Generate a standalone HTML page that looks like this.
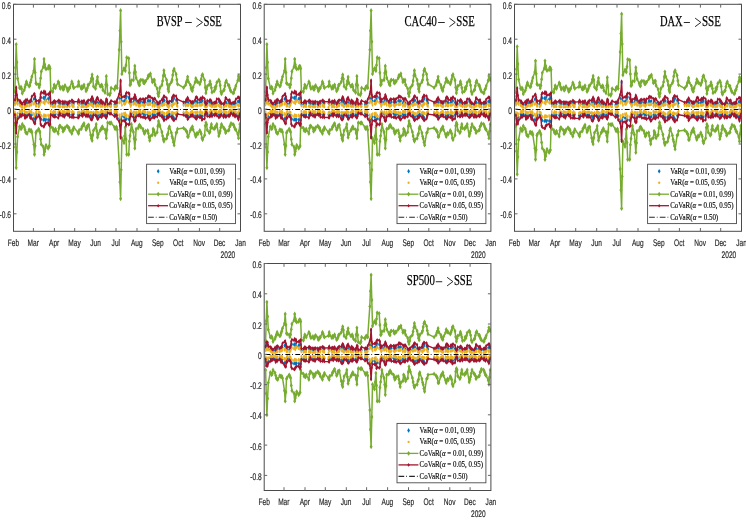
<!DOCTYPE html><html><head><meta charset="utf-8"><style>html,body{margin:0;padding:0;background:#fff;width:746px;height:520px;overflow:hidden}svg{display:block;will-change:transform}.t{font-family:"Liberation Sans",sans-serif;font-size:9.5px;fill:#262626;stroke:#262626;stroke-width:0.18;text-rendering:geometricPrecision}.s{font-family:"Liberation Serif",serif;fill:#000}.ti{stroke:#000;stroke-width:0.25}</style></head><body>
<svg width="746" height="520" viewBox="0 0 746 520">
<defs><marker id="mg" markerUnits="userSpaceOnUse" markerWidth="6" markerHeight="6" refX="3" refY="3" overflow="visible"><path d="M1.5,3L3,0.6000000000000001L4.5,3L3,5.4Z" fill="#77AC30"/></marker><marker id="mr" markerUnits="userSpaceOnUse" markerWidth="6" markerHeight="6" refX="3" refY="3" overflow="visible"><path d="M1.9,3L3,1.0L4.1,3L3,5.0Z" fill="#A2142F"/></marker><marker id="mb" markerUnits="userSpaceOnUse" markerWidth="6" markerHeight="6" refX="3" refY="3" overflow="visible"><path d="M1.9,3L3,0.8999999999999999L4.1,3L3,5.1Z" fill="#0072BD"/></marker><marker id="my" markerUnits="userSpaceOnUse" markerWidth="6" markerHeight="6" refX="3" refY="3" overflow="visible"><ellipse cx="3" cy="3" rx="0.9" ry="1.8" fill="#EDB120"/></marker></defs>
<clipPath id="c0"><rect x="13.5" y="4.3" width="227.0" height="227.0"/></clipPath>
<g clip-path="url(#c0)">
<polyline points="14.9,103.5 15.5,99.4 16.2,88.3 16.9,98.6 17.6,101.7 19.6,103.5 20.3,104.0 21.0,104.1 21.6,104.5 22.3,105.0 24.3,104.5 25.0,104.1 25.7,103.3 26.4,102.0 27.1,102.9 29.1,103.0 29.8,102.7 30.4,102.3 31.1,100.8 31.8,101.5 33.8,99.0 34.5,98.5 35.2,99.0 35.9,101.5 36.5,104.0 38.6,103.7 39.2,103.3 39.9,102.6 40.6,97.8 41.3,97.5 43.3,97.9 44.0,97.3 44.7,99.5 45.3,96.8 46.0,100.1 48.1,98.6 48.7,99.3 49.4,97.2 50.1,98.0 50.8,104.5 52.8,104.6 53.5,104.5 54.2,103.8 54.8,104.4 55.5,103.7 58.2,102.4 58.9,102.3 59.6,103.6 60.3,103.5 62.3,103.8 63.0,104.3 63.6,103.9 64.3,103.2 65.0,103.7 67.0,104.2 67.7,104.7 68.4,104.4 69.1,104.6 69.7,103.2 71.8,102.9 72.5,102.6 73.1,103.9 73.8,103.7 77.9,103.2 78.6,102.9 79.2,102.3 81.3,103.8 81.9,102.8 82.6,103.4 83.3,104.0 84.0,103.6 86.0,104.3 86.7,104.4 87.4,103.9 88.0,103.5 88.7,104.0 90.7,102.5 91.4,102.7 92.1,100.7 92.8,102.2 93.5,103.8 95.5,104.0 96.2,103.0 96.8,103.0 97.5,102.5 98.2,103.2 100.2,104.5 100.9,104.0 101.6,102.4 102.3,104.2 102.9,104.1 105.0,105.5 105.7,103.0 106.3,101.8 107.0,103.3 107.7,105.0 109.7,104.5 110.4,105.1 111.1,104.1 114.5,104.7 115.1,103.5 115.8,103.7 116.5,103.3 117.2,102.7 119.2,98.1 119.9,98.2 120.6,81.7 121.2,98.5 121.9,100.9 124.0,101.2 124.6,100.9 125.3,101.5 126.0,98.8 126.7,96.4 128.7,97.7 129.4,98.9 130.0,103.2 130.7,103.1 131.4,101.7 133.4,102.2 134.1,100.5 134.8,98.7 135.5,99.5 136.1,101.6 138.2,103.1 138.9,103.9 139.5,103.5 140.2,103.4 140.9,101.6 142.9,102.4 143.6,102.4 144.3,101.7 145.0,101.7 145.6,102.8 147.7,101.0 148.3,100.3 149.0,101.3 149.7,101.2 150.4,100.8 152.4,103.0 153.1,101.3 153.8,103.4 154.4,102.7 155.1,103.3 157.2,104.3 157.8,105.2 158.5,105.3 159.2,105.2 159.9,103.4 161.9,104.3 162.6,102.2 163.3,101.2 163.9,99.8 164.6,100.6 166.6,102.4 167.3,103.4 168.0,103.8 168.7,104.4 169.4,103.7 171.4,101.4 172.1,100.6 172.7,101.5 173.4,99.6 174.1,98.1 176.1,100.1 176.8,101.7 177.5,103.1 183.6,104.0 185.6,103.3 186.3,102.8 187.0,101.6 187.6,101.6 188.3,102.5 190.4,103.8 191.0,104.0 191.7,104.9 192.4,104.6 193.1,103.2 195.1,102.4 195.8,101.5 196.5,101.8 197.1,102.3 197.8,102.6 199.8,103.0 200.5,102.0 201.2,102.3 201.9,100.2 202.6,100.8 204.6,102.5 205.3,104.0 205.9,105.3 206.6,104.2 207.3,104.0 209.3,102.4 210.0,102.9 210.7,104.2 211.4,104.3 212.0,105.9 214.1,104.7 214.8,103.5 215.4,103.7 216.1,104.2 216.8,103.0 218.8,101.1 219.5,102.2 220.2,103.4 220.8,104.2 221.5,104.0 223.6,104.0 224.2,104.2 224.9,103.3 225.6,102.3 226.3,102.7 228.3,103.7 229.0,103.4 229.7,104.5 230.3,104.5 231.0,104.8 233.0,104.0 233.7,105.6 234.4,104.6 235.1,104.2 235.8,103.2 237.8,101.6 238.5,101.4 239.1,101.8 239.8,102.7" fill="none" stroke="none" marker-start="url(#mb)" marker-mid="url(#mb)" marker-end="url(#mb)"/>
<polyline points="14.9,113.9 15.5,117.8 16.2,131.9 16.9,119.1 17.6,116.2 19.6,113.6 20.3,113.2 21.0,114.1 21.6,113.6 22.3,113.8 24.3,114.0 25.0,113.2 25.7,115.8 26.4,115.0 27.1,114.7 29.1,114.4 29.8,114.6 30.4,114.4 31.1,114.2 31.8,115.0 33.8,118.6 34.5,119.0 35.2,118.4 35.9,115.5 36.5,114.3 38.6,113.6 39.2,113.7 39.9,115.1 40.6,118.8 41.3,119.3 43.3,119.9 44.0,119.3 44.7,119.4 45.3,120.5 46.0,119.4 48.1,119.7 48.7,119.7 49.4,120.1 50.1,120.2 50.8,114.2 52.8,114.1 53.5,114.1 54.2,113.7 54.8,113.8 55.5,114.1 58.2,114.8 58.9,114.2 59.6,112.9 60.3,113.3 62.3,113.3 63.0,113.3 63.6,113.9 64.3,114.7 65.0,114.0 67.0,113.9 67.7,113.9 68.4,112.8 69.1,113.6 69.7,115.0 71.8,114.4 72.5,113.5 73.1,114.2 73.8,114.0 77.9,114.7 78.6,114.7 79.2,113.9 81.3,113.2 81.9,112.7 82.6,112.5 83.3,112.0 84.0,112.3 86.0,114.6 86.7,113.7 87.4,113.0 88.0,113.2 88.7,112.7 90.7,115.3 91.4,116.7 92.1,115.8 92.8,115.0 93.5,114.1 95.5,113.0 96.2,112.4 96.8,114.1 97.5,116.9 98.2,115.5 100.2,114.5 100.9,114.4 101.6,113.4 102.3,112.7 102.9,113.9 105.0,114.7 105.7,113.9 106.3,115.9 107.0,114.7 107.7,112.5 109.7,112.4 110.4,113.0 111.1,112.2 114.5,113.6 115.1,114.2 115.8,113.5 116.5,113.1 117.2,115.4 119.2,118.4 119.9,120.4 120.6,136.6 121.2,118.9 121.9,116.3 124.0,117.0 124.6,117.1 125.3,116.6 126.0,119.5 126.7,118.7 128.7,119.1 129.4,119.6 130.0,115.9 130.7,113.9 131.4,112.8 133.4,113.8 134.1,116.2 134.8,117.3 135.5,115.7 136.1,114.1 138.2,114.4 138.9,113.7 139.5,113.7 140.2,112.3 140.9,113.9 142.9,113.2 143.6,114.1 144.3,114.0 145.0,114.2 145.6,114.4 147.7,114.4 148.3,114.9 149.0,115.8 149.7,116.8 150.4,115.8 152.4,114.3 153.1,115.0 153.8,114.0 154.4,115.2 155.1,115.1 157.2,114.1 157.8,113.2 158.5,112.2 159.2,113.4 159.9,112.6 161.9,114.8 162.6,115.3 163.3,116.3 163.9,118.2 164.6,116.9 166.6,116.0 167.3,114.6 168.0,114.7 168.7,113.6 169.4,114.2 171.4,114.0 172.1,114.7 172.7,116.3 173.4,117.3 174.1,118.3 176.1,114.7 176.8,113.1 177.5,113.5 183.6,113.0 185.6,113.8 186.3,114.9 187.0,114.0 187.6,116.3 188.3,115.7 190.4,114.2 191.0,113.4 191.7,113.4 192.4,113.2 193.1,114.5 195.1,115.8 195.8,115.6 196.5,115.6 197.1,115.6 197.8,115.6 199.8,114.6 200.5,115.6 201.2,115.8 201.9,116.9 202.6,116.3 204.6,115.0 205.3,112.2 205.9,113.4 206.6,113.2 207.3,113.5 209.3,114.8 210.0,114.6 210.7,112.6 211.4,113.0 212.0,114.1 214.1,114.4 214.8,113.3 215.4,113.3 216.1,113.8 216.8,113.6 218.8,114.8 219.5,114.7 220.2,114.6 220.8,113.1 221.5,112.6 223.6,114.4 224.2,113.9 224.9,113.9 225.6,115.0 226.3,115.6 228.3,114.4 229.0,113.6 229.7,112.5 230.3,114.1 231.0,111.2 233.0,113.2 233.7,112.4 234.4,112.7 235.1,113.3 235.8,114.1 237.8,115.7 238.5,115.5 239.1,114.8 239.8,114.2" fill="none" stroke="none" marker-start="url(#mb)" marker-mid="url(#mb)" marker-end="url(#mb)"/>
<polyline points="14.9,104.8 15.5,102.3 16.2,99.2 16.9,103.0 17.6,103.9 19.6,105.1 20.3,105.3 21.0,106.1 21.6,106.9 22.3,106.9 24.3,107.6 25.0,106.9 25.7,105.6 26.4,105.9 27.1,105.7 29.1,105.9 29.8,104.8 30.4,104.7 31.1,105.0 31.8,103.9 33.8,104.0 34.5,102.3 35.2,103.4 35.9,105.9 36.5,105.7 38.6,106.4 39.2,105.9 39.9,104.8 40.6,102.4 41.3,101.4 43.3,102.5 44.0,102.3 44.7,103.5 45.3,100.7 46.0,101.3 48.1,102.3 48.7,102.7 49.4,101.4 50.1,102.0 50.8,105.8 52.8,106.5 53.5,106.1 54.2,105.5 54.8,106.2 55.5,106.2 58.2,106.3 58.9,105.7 59.6,106.6 60.3,106.3 62.3,106.6 63.0,106.3 63.6,106.1 64.3,106.7 65.0,106.3 67.0,106.7 67.7,106.1 68.4,105.5 69.1,105.8 69.7,106.2 71.8,104.6 72.5,106.3 73.1,105.1 73.8,106.4 77.9,107.3 78.6,104.0 79.2,105.0 81.3,106.7 81.9,105.9 82.6,106.2 83.3,105.9 84.0,106.6 86.0,106.8 86.7,106.2 87.4,106.0 88.0,105.2 88.7,105.6 90.7,104.0 91.4,105.2 92.1,104.3 92.8,105.9 93.5,106.5 95.5,105.4 96.2,106.2 96.8,104.9 97.5,104.8 98.2,105.9 100.2,106.0 100.9,106.1 101.6,106.0 102.3,105.6 102.9,106.1 105.0,106.9 105.7,106.1 106.3,104.6 107.0,105.8 107.7,106.3 109.7,105.6 110.4,106.4 111.1,106.3 114.5,106.4 115.1,106.5 115.8,106.4 116.5,106.5 117.2,105.6 119.2,102.8 119.9,101.0 120.6,96.1 121.2,102.6 121.9,105.0 124.0,103.5 124.6,104.1 125.3,103.4 126.0,102.0 126.7,100.9 128.7,102.2 129.4,101.7 130.0,104.1 130.7,106.2 131.4,104.5 133.4,104.0 134.1,103.8 134.8,102.2 135.5,103.2 136.1,105.0 138.2,105.1 138.9,106.1 139.5,106.0 140.2,105.5 140.9,105.1 142.9,105.0 143.6,105.1 144.3,106.2 145.0,104.2 145.6,104.5 147.7,104.3 148.3,104.6 149.0,104.4 149.7,104.0 150.4,104.1 152.4,106.0 153.1,104.7 153.8,103.6 154.4,106.1 155.1,105.1 157.2,106.1 157.8,107.0 158.5,106.2 159.2,107.4 159.9,106.1 161.9,104.9 162.6,105.2 163.3,104.6 163.9,103.8 164.6,104.6 166.6,104.2 167.3,106.1 168.0,105.8 168.7,107.2 169.4,105.4 171.4,105.4 172.1,106.3 172.7,104.3 173.4,104.3 174.1,103.8 176.1,103.4 176.8,105.5 177.5,106.1 183.6,105.2 185.6,105.7 186.3,104.5 187.0,104.8 187.6,105.2 188.3,105.2 190.4,105.1 191.0,105.6 191.7,106.4 192.4,106.5 193.1,106.1 195.1,105.7 195.8,103.8 196.5,105.0 197.1,105.8 197.8,105.6 199.8,105.1 200.5,104.9 201.2,104.9 201.9,104.8 202.6,104.3 204.6,106.0 205.3,106.8 205.9,106.3 206.6,106.6 207.3,105.7 209.3,105.0 210.0,105.0 210.7,105.6 211.4,105.0 212.0,106.3 214.1,106.8 214.8,105.8 215.4,106.0 216.1,106.3 216.8,105.3 218.8,105.2 219.5,106.3 220.2,105.9 220.8,106.8 221.5,107.1 223.6,107.4 224.2,106.5 224.9,105.9 225.6,105.3 226.3,105.8 228.3,105.3 229.0,106.5 229.7,106.3 230.3,105.7 231.0,107.0 233.0,107.1 233.7,106.2 234.4,106.7 235.1,106.4 235.8,105.7 237.8,104.5 238.5,105.7 239.1,105.1 239.8,105.5" fill="none" stroke="none" marker-start="url(#my)" marker-mid="url(#my)" marker-end="url(#my)"/>
<polyline points="14.9,112.1 15.5,115.3 16.2,119.9 16.9,115.1 17.6,113.5 19.6,111.6 20.3,111.4 21.0,112.1 21.6,111.5 22.3,110.4 24.3,111.3 25.0,112.2 25.7,112.3 26.4,112.8 27.1,112.2 29.1,111.5 29.8,112.4 30.4,112.2 31.1,111.4 31.8,112.7 33.8,113.9 34.5,116.0 35.2,114.6 35.9,112.8 36.5,111.0 38.6,112.1 39.2,112.3 39.9,112.6 40.6,115.7 41.3,115.8 43.3,116.4 44.0,115.1 44.7,115.6 45.3,115.6 46.0,115.9 48.1,115.2 48.7,116.8 49.4,116.1 50.1,116.2 50.8,111.6 52.8,112.8 53.5,111.5 54.2,112.2 54.8,112.3 55.5,112.1 58.2,112.4 58.9,111.5 59.6,112.1 60.3,111.9 62.3,111.5 63.0,112.0 63.6,112.0 64.3,112.1 65.0,112.0 67.0,111.4 67.7,110.9 68.4,112.1 69.1,110.9 69.7,111.6 71.8,112.6 72.5,111.6 73.1,112.7 73.8,112.6 77.9,112.9 78.6,112.6 79.2,112.2 81.3,112.0 81.9,111.5 82.6,112.5 83.3,110.9 84.0,111.9 86.0,112.1 86.7,111.9 87.4,112.0 88.0,112.0 88.7,112.0 90.7,112.6 91.4,112.8 92.1,113.0 92.8,113.2 93.5,112.5 95.5,112.1 96.2,111.1 96.8,113.1 97.5,112.2 98.2,112.8 100.2,112.5 100.9,111.7 101.6,111.1 102.3,111.3 102.9,111.2 105.0,111.9 105.7,111.8 106.3,112.2 107.0,112.0 107.7,110.3 109.7,111.0 110.4,111.0 111.1,111.6 114.5,111.6 115.1,111.3 115.8,112.3 116.5,111.2 117.2,112.3 119.2,115.1 119.9,117.5 120.6,122.1 121.2,114.9 121.9,114.0 124.0,113.6 124.6,114.9 125.3,113.3 126.0,116.4 126.7,115.3 128.7,116.6 129.4,115.3 130.0,112.9 130.7,111.6 131.4,111.9 133.4,112.5 134.1,112.1 134.8,115.2 135.5,113.7 136.1,112.1 138.2,112.2 138.9,110.8 139.5,110.4 140.2,111.7 140.9,112.5 142.9,111.2 143.6,111.5 144.3,112.0 145.0,111.7 145.6,112.6 147.7,112.2 148.3,113.1 149.0,113.7 149.7,112.8 150.4,113.3 152.4,111.4 153.1,111.9 153.8,112.3 154.4,111.9 155.1,111.6 157.2,111.9 157.8,112.0 158.5,110.9 159.2,110.4 159.9,111.7 161.9,112.6 162.6,112.3 163.3,113.2 163.9,114.1 164.6,113.5 166.6,113.5 167.3,112.6 168.0,112.3 168.7,111.2 169.4,111.2 171.4,113.1 172.1,112.6 172.7,112.7 173.4,113.5 174.1,113.3 176.1,112.9 176.8,112.7 177.5,111.3 183.6,112.3 185.6,113.0 186.3,111.6 187.0,112.7 187.6,113.0 188.3,113.5 190.4,112.8 191.0,112.4 191.7,111.9 192.4,111.4 193.1,113.1 195.1,112.2 195.8,113.4 196.5,113.1 197.1,112.1 197.8,112.5 199.8,112.9 200.5,111.3 201.2,113.0 201.9,112.9 202.6,113.1 204.6,111.9 205.3,111.7 205.9,110.6 206.6,111.6 207.3,111.3 209.3,112.7 210.0,112.3 210.7,110.6 211.4,111.1 212.0,111.5 214.1,110.6 214.8,111.4 215.4,112.0 216.1,111.0 216.8,112.0 218.8,111.9 219.5,111.8 220.2,112.4 220.8,111.9 221.5,111.1 223.6,111.6 224.2,112.3 224.9,111.6 225.6,113.3 226.3,112.4 228.3,112.2 229.0,112.0 229.7,111.3 230.3,111.9 231.0,110.8 233.0,111.2 233.7,111.6 234.4,112.3 235.1,112.4 235.8,111.8 237.8,113.0 238.5,112.9 239.1,111.6 239.8,110.7" fill="none" stroke="none" marker-start="url(#my)" marker-mid="url(#my)" marker-end="url(#my)"/>
<polyline points="14.9,91.8 15.5,67.7 16.2,44.3 16.9,62.3 17.6,78.5 19.6,87.9 20.3,88.1 21.0,87.0 21.6,88.7 22.3,93.3 24.3,89.9 25.0,87.1 25.7,84.5 26.4,81.7 27.1,84.0 29.1,86.3 29.8,85.6 30.4,82.6 31.1,80.1 31.8,76.8 33.8,70.8 34.5,59.1 35.2,72.5 35.9,83.2 36.5,83.8 38.6,84.8 39.2,87.4 39.9,84.8 40.6,78.2 41.3,71.5 43.3,66.9 44.0,59.1 44.7,64.5 45.3,67.7 46.0,69.2 48.1,68.5 48.7,66.1 49.4,66.3 50.1,68.4 50.8,91.0 52.8,91.8 53.5,88.2 54.2,84.8 54.8,86.3 55.5,87.9 58.2,81.7 58.9,83.1 59.6,86.2 60.3,88.7 62.3,87.0 63.0,89.4 63.6,89.4 64.3,86.7 65.0,85.5 67.0,88.4 67.7,91.0 68.4,90.0 69.1,88.2 69.7,87.9 71.8,81.7 72.5,83.6 73.1,86.3 73.8,87.9 77.9,86.0 78.6,81.7 79.2,85.4 81.3,88.7 81.9,86.5 82.6,88.1 83.3,86.6 84.0,84.8 86.0,91.0 86.7,89.9 87.4,88.0 88.0,85.0 88.7,84.8 90.7,81.8 91.4,78.5 92.1,74.7 92.8,78.9 93.5,86.3 95.5,88.7 96.2,84.4 96.8,81.0 97.5,77.0 98.2,82.8 100.2,86.3 100.9,86.0 101.6,84.8 102.3,86.7 102.9,90.0 105.0,92.5 105.7,84.7 106.3,76.2 107.0,85.2 107.7,94.1 109.7,95.1 110.4,93.3 111.1,87.9 114.5,89.5 115.1,87.2 115.8,86.3 116.5,86.9 117.2,87.9 119.2,49.8 119.9,30.8 120.6,10.5 121.2,41.7 121.9,73.9 124.0,68.4 124.6,68.9 125.3,70.8 126.0,65.2 126.7,57.5 128.7,58.3 129.4,72.8 130.0,85.0 130.7,84.2 131.4,80.6 133.4,80.0 134.1,72.9 134.8,65.9 135.5,72.1 136.1,78.0 138.2,82.4 138.9,84.5 139.5,85.2 140.2,80.6 140.9,80.0 142.9,80.2 143.6,82.9 144.3,83.0 145.0,81.2 145.6,81.3 147.7,78.0 148.3,75.4 149.0,75.9 149.7,75.1 150.4,73.7 152.4,82.0 153.1,80.1 153.8,81.2 154.4,79.9 155.1,84.8 157.2,88.7 157.8,93.5 158.5,96.2 159.2,92.6 159.9,87.7 161.9,85.0 162.6,80.9 163.3,75.7 163.9,70.5 164.6,75.2 166.6,80.0 167.3,84.1 168.0,89.1 168.7,91.5 169.4,85.0 171.4,82.0 172.1,79.9 172.7,75.1 173.4,70.8 174.1,69.0 176.1,74.2 176.8,79.7 177.5,84.0 183.6,87.7 185.6,85.0 186.3,82.2 187.0,80.3 187.6,76.8 188.3,81.5 190.4,85.0 191.0,88.1 191.7,90.1 192.4,90.8 193.1,87.2 195.1,82.2 195.8,78.3 196.5,80.2 197.1,81.7 197.8,81.9 199.8,84.0 200.5,81.8 201.2,79.2 201.9,75.6 202.6,74.4 204.6,80.2 205.3,87.5 205.9,93.1 206.6,89.2 207.3,86.2 209.3,84.5 210.0,81.4 210.7,84.2 211.4,87.8 212.0,92.3 214.1,91.2 214.8,87.6 215.4,88.9 216.1,86.0 216.8,82.4 218.8,79.9 219.5,81.4 220.2,85.3 220.8,91.6 221.5,93.9 223.6,90.4 224.2,89.7 224.9,86.0 225.6,82.5 226.3,80.7 228.3,85.3 229.0,85.3 229.7,88.0 230.3,90.0 231.0,91.4 233.0,93.1 233.7,92.9 234.4,89.7 235.1,88.8 235.8,86.0 237.8,80.5 238.5,76.0 239.1,77.6 239.8,80.0" fill="none" stroke="#77AC30" stroke-width="1.5" stroke-linejoin="round" marker-start="url(#mg)" marker-mid="url(#mg)" marker-end="url(#mg)"/>
<polyline points="14.9,124.2 15.5,147.0 16.2,167.8 16.9,152.0 17.6,136.7 19.6,126.6 20.3,127.4 21.0,128.9 21.6,128.0 22.3,124.2 24.3,127.0 25.0,129.7 25.7,132.5 26.4,132.8 27.1,133.6 29.1,129.7 29.8,130.2 30.4,131.2 31.1,130.2 31.8,132.0 33.8,144.4 34.5,154.5 35.2,145.7 35.9,132.8 36.5,131.4 38.6,128.9 39.2,130.4 39.9,132.0 40.6,139.2 41.3,144.4 43.3,146.8 44.0,154.5 44.7,151.5 45.3,148.3 46.0,145.2 48.1,148.3 48.7,146.9 49.4,146.0 50.1,124.2 50.8,126.9 52.8,128.1 53.5,130.5 54.2,130.3 54.8,131.2 55.5,128.9 58.2,133.6 58.9,128.2 59.6,125.8 60.3,126.1 62.3,128.1 63.0,131.4 63.6,128.9 64.3,129.7 65.0,127.7 67.0,125.8 67.7,126.8 68.4,127.5 69.1,128.1 69.7,130.5 71.8,133.6 72.5,129.9 73.1,130.0 73.8,127.3 77.9,132.4 78.6,133.6 79.2,130.2 81.3,128.9 81.9,126.8 82.6,126.0 83.3,124.5 84.0,123.4 86.0,129.7 86.7,128.5 87.4,125.8 88.0,125.6 88.7,125.0 90.7,135.1 91.4,138.5 92.1,140.6 92.8,135.0 93.5,130.4 95.5,127.7 96.2,124.2 96.8,130.9 97.5,137.4 98.2,134.3 100.2,130.4 100.9,129.4 101.6,127.8 102.3,126.6 102.9,128.4 105.0,129.7 105.7,133.0 106.3,138.2 107.0,129.8 107.7,122.7 109.7,123.0 110.4,123.3 111.1,122.7 114.5,127.3 115.1,128.9 115.8,128.0 116.5,127.0 117.2,129.7 119.2,163.1 119.9,182.0 120.6,198.8 121.2,169.8 121.9,138.2 124.0,142.9 124.6,136.0 125.3,127.3 126.0,139.3 126.7,154.5 128.7,154.5 129.4,141.3 130.0,135.8 130.7,130.5 131.4,124.2 133.4,132.0 134.1,138.6 134.8,148.3 135.5,139.6 136.1,128.9 138.2,128.1 138.9,126.0 139.5,125.0 140.2,126.1 140.9,127.3 142.9,128.9 143.6,131.3 144.3,133.6 145.0,132.6 145.6,130.9 147.7,130.4 148.3,133.2 149.0,137.1 149.7,140.6 150.4,136.3 152.4,134.8 153.1,128.9 153.8,130.1 154.4,132.3 155.1,135.1 157.2,132.2 157.8,126.2 158.5,121.1 159.2,124.1 159.9,126.0 161.9,132.0 162.6,135.9 163.3,139.4 163.9,141.3 164.6,139.4 166.6,138.4 167.3,135.1 168.0,133.5 168.7,128.3 169.4,126.6 171.4,132.8 172.1,136.4 172.7,138.5 173.4,142.2 174.1,145.2 176.1,132.8 176.8,132.2 177.5,128.9 183.6,128.1 185.6,129.9 186.3,131.2 187.0,132.0 187.6,136.7 188.3,136.7 190.4,130.4 191.0,128.7 191.7,128.3 192.4,126.6 193.1,129.7 195.1,134.6 195.8,136.7 196.5,134.3 197.1,133.1 197.8,134.0 199.8,130.4 200.5,132.1 201.2,133.7 201.9,137.9 202.6,139.8 204.6,135.3 205.3,125.7 205.9,122.7 206.6,124.4 207.3,130.1 209.3,132.8 210.0,131.7 210.7,127.5 211.4,124.2 212.0,127.9 214.1,128.9 214.8,127.4 215.4,127.6 216.1,125.9 216.8,124.2 218.8,135.9 219.5,133.5 220.2,130.9 220.8,127.4 221.5,124.2 223.6,127.7 224.2,128.6 224.9,129.7 225.6,132.8 226.3,131.6 228.3,130.4 229.0,129.9 229.7,126.4 230.3,125.8 231.0,123.4 233.0,124.2 233.7,125.2 234.4,127.2 235.1,129.1 235.8,129.7 237.8,134.1 238.5,138.2 239.1,131.2 239.8,124.2" fill="none" stroke="#77AC30" stroke-width="1.5" stroke-linejoin="round" marker-start="url(#mg)" marker-mid="url(#mg)" marker-end="url(#mg)"/>
<polyline points="14.9,100.3 15.5,95.4 16.2,87.2 16.9,95.1 17.6,99.2 19.6,100.7 20.3,101.1 21.0,102.4 21.6,103.4 22.3,103.6 24.3,101.3 25.0,104.0 25.7,100.1 26.4,100.7 27.1,99.5 29.1,102.0 29.8,101.1 30.4,101.2 31.1,99.8 31.8,96.4 33.8,94.6 34.5,93.7 35.2,96.8 35.9,101.2 36.5,100.7 38.6,100.8 39.2,101.4 39.9,100.5 40.6,94.1 41.3,92.1 43.3,93.1 44.0,91.2 44.7,93.3 45.3,92.0 46.0,94.8 48.1,94.2 48.7,94.4 49.4,93.0 50.1,92.6 50.8,102.7 52.8,102.4 53.5,102.0 54.2,100.7 54.8,101.3 55.5,102.0 58.2,100.7 58.9,100.3 59.6,101.6 60.3,101.6 62.3,101.6 63.0,103.4 63.6,102.1 64.3,102.6 65.0,101.6 67.0,102.2 67.7,104.5 68.4,102.4 69.1,101.8 69.7,101.6 71.8,100.3 72.5,100.6 73.1,102.0 73.8,101.8 77.9,101.5 78.6,99.8 79.2,101.9 81.3,101.6 81.9,101.3 82.6,101.8 83.3,101.7 84.0,100.5 86.0,104.0 86.7,102.1 87.4,101.5 88.0,100.6 88.7,100.2 90.7,100.1 91.4,98.6 92.1,96.8 92.8,98.3 93.5,100.8 95.5,103.1 96.2,100.1 96.8,98.2 97.5,97.4 98.2,99.6 100.2,102.4 100.9,100.2 101.6,100.9 102.3,103.6 102.9,102.1 105.0,104.2 105.7,101.7 106.3,98.9 107.0,99.7 107.7,103.9 109.7,103.6 110.4,102.0 111.1,100.7 114.5,102.2 115.1,101.8 115.8,102.4 116.5,102.0 117.2,99.5 119.2,93.9 119.9,91.5 120.6,80.3 121.2,94.9 121.9,97.2 124.0,96.6 124.6,96.7 125.3,96.3 126.0,93.6 126.7,92.6 128.7,92.9 129.4,94.1 130.0,101.5 130.7,99.8 131.4,99.3 133.4,98.3 134.1,97.8 134.8,94.8 135.5,96.6 136.1,98.9 138.2,101.7 138.9,100.8 139.5,99.8 140.2,99.0 140.9,99.5 142.9,99.1 143.6,99.2 144.3,102.3 145.0,99.5 145.6,98.7 147.7,97.6 148.3,95.9 149.0,96.4 149.7,96.8 150.4,96.9 152.4,98.5 153.1,99.6 153.8,99.3 154.4,98.4 155.1,98.9 157.2,102.2 157.8,103.7 158.5,103.7 159.2,102.2 159.9,101.8 161.9,99.4 162.6,100.0 163.3,97.5 163.9,96.1 164.6,96.5 166.6,98.0 167.3,101.8 168.0,102.9 168.7,102.3 169.4,101.5 171.4,101.0 172.1,97.8 172.7,96.8 173.4,95.3 174.1,95.7 176.1,95.9 176.8,99.0 177.5,99.4 183.6,102.2 185.6,101.5 186.3,99.6 187.0,99.6 187.6,97.6 188.3,99.2 190.4,101.5 191.0,101.7 191.7,102.8 192.4,101.8 193.1,102.0 195.1,100.1 195.8,97.5 196.5,97.0 197.1,97.7 197.8,99.6 199.8,100.0 200.5,98.2 201.2,98.7 201.9,98.3 202.6,97.1 204.6,98.7 205.3,102.3 205.9,104.6 206.6,103.5 207.3,100.6 209.3,101.1 210.0,99.8 210.7,100.3 211.4,101.2 212.0,103.4 214.1,102.4 214.8,102.7 215.4,102.2 216.1,101.9 216.8,98.9 218.8,99.1 219.5,100.2 220.2,101.3 220.8,103.1 221.5,103.0 223.6,104.2 224.2,103.2 224.9,101.4 225.6,97.7 226.3,98.6 228.3,100.7 229.0,100.3 229.7,100.0 230.3,102.7 231.0,103.3 233.0,102.5 233.7,103.0 234.4,101.9 235.1,102.4 235.8,99.3 237.8,97.6 238.5,97.3 239.1,97.5 239.8,100.6" fill="none" stroke="#A2142F" stroke-width="1.4" stroke-linejoin="round" marker-start="url(#mr)" marker-mid="url(#mr)" marker-end="url(#mr)"/>
<polyline points="14.9,114.7 15.5,122.5 16.2,133.1 16.9,122.4 17.6,119.2 19.6,117.0 20.3,115.0 21.0,116.4 21.6,115.7 22.3,115.0 24.3,115.5 25.0,118.2 25.7,116.0 26.4,117.1 27.1,116.4 29.1,114.6 29.8,116.3 30.4,118.2 31.1,117.2 31.8,118.5 33.8,121.8 34.5,123.5 35.2,123.5 35.9,117.5 36.5,118.0 38.6,115.8 39.2,116.5 39.9,117.5 40.6,124.1 41.3,125.5 43.3,126.4 44.0,126.7 44.7,124.2 45.3,124.1 46.0,123.1 48.1,122.5 48.7,124.2 49.4,125.5 50.1,123.8 50.8,115.1 52.8,115.7 53.5,116.6 54.2,116.3 54.8,116.9 55.5,116.3 58.2,118.0 58.9,116.1 59.6,112.9 60.3,115.0 62.3,115.8 63.0,116.0 63.6,115.4 64.3,117.0 65.0,115.6 67.0,114.1 67.7,114.9 68.4,115.3 69.1,114.3 69.7,117.1 71.8,117.2 72.5,116.9 73.1,114.8 73.8,117.4 77.9,117.5 78.6,117.8 79.2,115.9 81.3,115.3 81.9,114.0 82.6,116.2 83.3,113.7 84.0,114.5 86.0,116.4 86.7,115.2 87.4,115.7 88.0,116.5 88.7,115.3 90.7,119.1 91.4,119.8 92.1,119.4 92.8,117.8 93.5,115.1 95.5,115.6 96.2,116.0 96.8,117.2 97.5,119.3 98.2,118.8 100.2,116.2 100.9,116.6 101.6,117.2 102.3,114.6 102.9,115.8 105.0,115.9 105.7,117.3 106.3,118.0 107.0,116.2 107.7,113.1 109.7,113.8 110.4,113.8 111.1,113.8 114.5,116.4 115.1,115.9 115.8,115.8 116.5,115.2 117.2,118.8 119.2,121.6 119.9,125.6 120.6,138.1 121.2,124.5 121.9,120.7 124.0,120.5 124.6,121.0 125.3,120.3 126.0,125.6 126.7,123.8 128.7,124.7 129.4,124.1 130.0,117.5 130.7,114.1 131.4,115.7 133.4,117.3 134.1,120.2 134.8,121.3 135.5,120.6 136.1,116.8 138.2,115.5 138.9,115.7 139.5,115.4 140.2,115.3 140.9,117.1 142.9,117.2 143.6,117.1 144.3,117.3 145.0,117.3 145.6,118.2 147.7,117.0 148.3,116.8 149.0,118.3 149.7,119.8 150.4,119.4 152.4,117.2 153.1,116.7 153.8,117.4 154.4,117.8 155.1,116.6 157.2,116.7 157.8,113.9 158.5,114.6 159.2,113.3 159.9,115.5 161.9,117.0 162.6,116.2 163.3,118.9 163.9,120.6 164.6,119.8 166.6,118.9 167.3,117.1 168.0,117.8 168.7,117.3 169.4,115.7 171.4,117.1 172.1,118.4 172.7,118.2 173.4,120.3 174.1,120.3 176.1,118.8 176.8,116.2 177.5,114.1 183.6,115.0 185.6,116.0 186.3,116.5 187.0,115.6 187.6,119.2 188.3,118.5 190.4,116.2 191.0,115.2 191.7,116.0 192.4,115.0 193.1,116.5 195.1,117.7 195.8,118.6 196.5,118.9 197.1,117.5 197.8,116.7 199.8,117.5 200.5,117.2 201.2,117.1 201.9,119.9 202.6,119.3 204.6,118.8 205.3,114.0 205.9,112.1 206.6,112.7 207.3,116.3 209.3,116.4 210.0,116.6 210.7,115.3 211.4,113.1 212.0,116.5 214.1,114.8 214.8,115.4 215.4,114.1 216.1,114.6 216.8,115.4 218.8,117.5 219.5,116.9 220.2,116.5 220.8,114.9 221.5,114.9 223.6,117.2 224.2,115.0 224.9,115.6 225.6,116.9 226.3,116.8 228.3,115.5 229.0,116.5 229.7,115.7 230.3,114.8 231.0,113.1 233.0,115.4 233.7,113.5 234.4,115.8 235.1,116.8 235.8,115.2 237.8,117.8 238.5,119.8 239.1,117.0 239.8,113.7" fill="none" stroke="#A2142F" stroke-width="1.4" stroke-linejoin="round" marker-start="url(#mr)" marker-mid="url(#mr)" marker-end="url(#mr)"/>
<line x1="14.9" y1="109.5" x2="239.8" y2="109.5" stroke="#000" stroke-width="1.2" stroke-dasharray="4.8 1.9 0.8 2.4"/>
</g>
<rect x="13.5" y="4.3" width="227.0" height="227.0" fill="none" stroke="#4a4a4a" stroke-width="1"/>
<path d="M33.4,231.3v-3.3M33.4,4.3v3.3M54.4,231.3v-3.3M54.4,4.3v3.3M74.7,231.3v-3.3M74.7,4.3v3.3M95.7,231.3v-3.3M95.7,4.3v3.3M116.0,231.3v-3.3M116.0,4.3v3.3M137.0,231.3v-3.3M137.0,4.3v3.3M158.0,231.3v-3.3M158.0,4.3v3.3M178.4,231.3v-3.3M178.4,4.3v3.3M199.4,231.3v-3.3M199.4,4.3v3.3M219.7,231.3v-3.3M219.7,4.3v3.3M13.5,213.8h3.0M240.5,213.8h-3.0M13.5,178.9h3.0M240.5,178.9h-3.0M13.5,144.0h3.0M240.5,144.0h-3.0M13.5,109.1h3.0M240.5,109.1h-3.0M13.5,74.1h3.0M240.5,74.1h-3.0M13.5,39.2h3.0M240.5,39.2h-3.0M13.5,4.3h3.0M240.5,4.3h-3.0" stroke="#666" stroke-width="1" fill="none"/>
<text class="t" style="font-size:9.6px" text-anchor="end" transform="translate(11.0,218.3) scale(0.69,1)">-0.6</text>
<text class="t" style="font-size:9.6px" text-anchor="end" transform="translate(11.0,183.4) scale(0.69,1)">-0.4</text>
<text class="t" style="font-size:9.6px" text-anchor="end" transform="translate(11.0,148.5) scale(0.69,1)">-0.2</text>
<text class="t" style="font-size:9.6px" text-anchor="end" transform="translate(11.0,113.6) scale(0.69,1)">0</text>
<text class="t" style="font-size:9.6px" text-anchor="end" transform="translate(11.0,78.6) scale(0.69,1)">0.2</text>
<text class="t" style="font-size:9.6px" text-anchor="end" transform="translate(11.0,43.7) scale(0.69,1)">0.4</text>
<text class="t" style="font-size:9.6px" text-anchor="end" transform="translate(11.0,8.8) scale(0.69,1)">0.6</text>
<text class="t" text-anchor="middle" transform="translate(13.5,245.9) scale(0.69,1)">Feb</text>
<text class="t" text-anchor="middle" transform="translate(33.2,245.9) scale(0.69,1)">Mar</text>
<text class="t" text-anchor="middle" transform="translate(54.2,245.9) scale(0.69,1)">Apr</text>
<text class="t" text-anchor="middle" transform="translate(74.5,245.9) scale(0.69,1)">May</text>
<text class="t" text-anchor="middle" transform="translate(95.5,245.9) scale(0.69,1)">Jun</text>
<text class="t" text-anchor="middle" transform="translate(115.8,245.9) scale(0.69,1)">Jul</text>
<text class="t" text-anchor="middle" transform="translate(136.8,245.9) scale(0.69,1)">Aug</text>
<text class="t" text-anchor="middle" transform="translate(157.8,245.9) scale(0.69,1)">Sep</text>
<text class="t" text-anchor="middle" transform="translate(178.2,245.9) scale(0.69,1)">Oct</text>
<text class="t" text-anchor="middle" transform="translate(199.2,245.9) scale(0.69,1)">Nov</text>
<text class="t" text-anchor="middle" transform="translate(219.5,245.9) scale(0.69,1)">Dec</text>
<text class="t" text-anchor="middle" transform="translate(240.5,245.9) scale(0.69,1)">Jan</text>
<text class="t" text-anchor="middle" transform="translate(227.9,257.9) scale(0.69,1)">2020</text>
<text class="s ti" font-size="14.6" x="156.7" y="26.1" textLength="25.8" lengthAdjust="spacingAndGlyphs">BVSP</text>
<rect x="185.1" y="22.1" width="6.7" height="0.9" fill="#111"/>
<path d="M196.4,18.1L202.5,22.4L196.4,26.7" fill="none" stroke="#111" stroke-width="0.9"/>
<text class="s ti" font-size="14.6" x="203.5" y="26.1" textLength="18.4" lengthAdjust="spacingAndGlyphs">SSE</text>
<rect x="146.6" y="164.2" width="88.9" height="59.4" fill="#fff" stroke="#4a4a4a" stroke-width="0.9"/>
<path d="M156.8,171.2l1.4,-2.3l1.4,2.3l-1.4,2.3z" fill="#0072BD"/>
<text class="s" style="stroke:#000;stroke-width:0.15" font-size="9" x="169.2" y="173.6" textLength="55.5" lengthAdjust="spacingAndGlyphs">VaR(<tspan font-style="italic">α</tspan> = 0.01, 0.99)</text>
<ellipse cx="158.2" cy="182.7" rx="1.1" ry="1.2" fill="#EDB120"/>
<text class="s" style="stroke:#000;stroke-width:0.15" font-size="9" x="169.2" y="185.1" textLength="55.5" lengthAdjust="spacingAndGlyphs">VaR(<tspan font-style="italic">α</tspan> = 0.05, 0.95)</text>
<line x1="148.1" y1="194.2" x2="168.0" y2="194.2" stroke="#77AC30" stroke-width="1.3"/>
<path d="M156.6,194.2l1.6,-2.4l1.6,2.4l-1.6,2.4z" fill="#77AC30"/>
<text class="s" style="stroke:#000;stroke-width:0.15" font-size="9" x="169.2" y="196.6" textLength="63.4" lengthAdjust="spacingAndGlyphs">CoVaR(<tspan font-style="italic">α</tspan> = 0.01, 0.99)</text>
<line x1="148.1" y1="205.7" x2="168.0" y2="205.7" stroke="#A2142F" stroke-width="1.3"/>
<path d="M156.9,205.7l1.3,-1.8l1.3,1.8l-1.3,1.8z" fill="#A2142F"/>
<text class="s" style="stroke:#000;stroke-width:0.15" font-size="9" x="169.2" y="208.1" textLength="63.4" lengthAdjust="spacingAndGlyphs">CoVaR(<tspan font-style="italic">α</tspan> = 0.05, 0.95)</text>
<line x1="148.1" y1="217.2" x2="168.0" y2="217.2" stroke="#262626" stroke-width="1.1" stroke-dasharray="5.7 2 0.8 2.2"/>
<text class="s" style="stroke:#000;stroke-width:0.15" font-size="9" x="169.2" y="219.6" textLength="48.0" lengthAdjust="spacingAndGlyphs">CoVaR(<tspan font-style="italic">α</tspan> = 0.50)</text>
<clipPath id="c1"><rect x="264.2" y="4.3" width="226.7" height="227.0"/></clipPath>
<g clip-path="url(#c1)">
<polyline points="265.6,103.5 266.2,99.4 266.9,88.3 267.6,98.6 268.3,101.7 270.3,103.5 271.0,104.0 271.6,104.1 272.3,104.5 273.0,105.0 275.0,104.5 275.7,104.1 276.4,103.3 277.1,102.0 277.7,102.9 279.8,103.0 280.4,102.7 281.1,102.3 281.8,100.8 282.5,101.5 284.5,99.0 285.2,98.5 285.9,99.0 286.5,101.5 287.2,104.0 289.2,103.7 289.9,103.3 290.6,102.6 291.3,97.8 291.9,97.5 294.0,97.9 294.7,97.3 295.3,99.5 296.0,96.8 296.7,100.1 298.7,98.6 299.4,99.3 300.1,97.2 300.7,98.0 301.4,104.5 303.4,104.6 304.1,104.5 304.8,103.8 305.5,104.4 306.2,103.7 308.9,102.4 309.5,102.3 310.2,103.6 310.9,103.5 312.9,103.8 313.6,104.3 314.3,103.9 315.0,103.2 315.6,103.7 317.7,104.2 318.3,104.7 319.0,104.4 319.7,104.6 320.4,103.2 322.4,102.9 323.1,102.6 323.8,103.9 324.4,103.7 328.5,103.2 329.2,102.9 329.8,102.3 331.9,103.8 332.5,102.8 333.2,103.4 333.9,104.0 334.6,103.6 336.6,104.3 337.3,104.4 338.0,103.9 338.6,103.5 339.3,104.0 341.3,102.5 342.0,102.7 342.7,100.7 343.4,102.2 344.1,103.8 346.1,104.0 346.8,103.0 347.4,103.0 348.1,102.5 348.8,103.2 350.8,104.5 351.5,104.0 352.2,102.4 352.8,104.2 353.5,104.1 355.6,105.5 356.2,103.0 356.9,101.8 357.6,103.3 358.3,105.0 360.3,104.5 361.0,105.1 361.6,104.1 365.0,104.7 365.7,103.5 366.4,103.7 367.1,103.3 367.7,102.7 369.8,98.1 370.4,98.2 371.1,81.7 371.8,98.5 372.5,100.9 374.5,101.2 375.2,100.9 375.9,101.5 376.5,98.8 377.2,96.4 379.2,97.7 379.9,98.9 380.6,103.2 381.3,103.1 381.9,101.7 384.0,102.2 384.7,100.5 385.3,98.7 386.0,99.5 386.7,101.6 388.7,103.1 389.4,103.9 390.1,103.5 390.7,103.4 391.4,101.6 393.5,102.4 394.1,102.4 394.8,101.7 395.5,101.7 396.2,102.8 398.2,101.0 398.9,100.3 399.5,101.3 400.2,101.2 400.9,100.8 402.9,103.0 403.6,101.3 404.3,103.4 405.0,102.7 405.6,103.3 407.7,104.3 408.3,105.2 409.0,105.3 409.7,105.2 410.4,103.4 412.4,104.3 413.1,102.2 413.8,101.2 414.4,99.8 415.1,100.6 417.1,102.4 417.8,103.4 418.5,103.8 419.2,104.4 419.8,103.7 421.9,101.4 422.6,100.6 423.2,101.5 423.9,99.6 424.6,98.1 426.6,100.1 427.3,101.7 428.0,103.1 434.1,104.0 436.1,103.3 436.8,102.8 437.4,101.6 438.1,101.6 438.8,102.5 440.8,103.8 441.5,104.0 442.2,104.9 442.9,104.6 443.5,103.2 445.6,102.4 446.2,101.5 446.9,101.8 447.6,102.3 448.3,102.6 450.3,103.0 451.0,102.0 451.7,102.3 452.3,100.2 453.0,100.8 455.0,102.5 455.7,104.0 456.4,105.3 457.1,104.2 457.7,104.0 459.8,102.4 460.4,102.9 461.1,104.2 461.8,104.3 462.5,105.9 464.5,104.7 465.2,103.5 465.9,103.7 466.5,104.2 467.2,103.0 469.2,101.1 469.9,102.2 470.6,103.4 471.3,104.2 472.0,104.0 474.0,104.0 474.7,104.2 475.3,103.3 476.0,102.3 476.7,102.7 478.7,103.7 479.4,103.4 480.1,104.5 480.7,104.5 481.4,104.8 483.5,104.0 484.1,105.6 484.8,104.6 485.5,104.2 486.2,103.2 488.2,101.6 488.9,101.4 489.5,101.8 490.2,102.7" fill="none" stroke="none" marker-start="url(#mb)" marker-mid="url(#mb)" marker-end="url(#mb)"/>
<polyline points="265.6,113.9 266.2,117.8 266.9,131.9 267.6,119.1 268.3,116.2 270.3,113.6 271.0,113.2 271.6,114.1 272.3,113.6 273.0,113.8 275.0,114.0 275.7,113.2 276.4,115.8 277.1,115.0 277.7,114.7 279.8,114.4 280.4,114.6 281.1,114.4 281.8,114.2 282.5,115.0 284.5,118.6 285.2,119.0 285.9,118.4 286.5,115.5 287.2,114.3 289.2,113.6 289.9,113.7 290.6,115.1 291.3,118.8 291.9,119.3 294.0,119.9 294.7,119.3 295.3,119.4 296.0,120.5 296.7,119.4 298.7,119.7 299.4,119.7 300.1,120.1 300.7,120.2 301.4,114.2 303.4,114.1 304.1,114.1 304.8,113.7 305.5,113.8 306.2,114.1 308.9,114.8 309.5,114.2 310.2,112.9 310.9,113.3 312.9,113.3 313.6,113.3 314.3,113.9 315.0,114.7 315.6,114.0 317.7,113.9 318.3,113.9 319.0,112.8 319.7,113.6 320.4,115.0 322.4,114.4 323.1,113.5 323.8,114.2 324.4,114.0 328.5,114.7 329.2,114.7 329.8,113.9 331.9,113.2 332.5,112.7 333.2,112.5 333.9,112.0 334.6,112.3 336.6,114.6 337.3,113.7 338.0,113.0 338.6,113.2 339.3,112.7 341.3,115.3 342.0,116.7 342.7,115.8 343.4,115.0 344.1,114.1 346.1,113.0 346.8,112.4 347.4,114.1 348.1,116.9 348.8,115.5 350.8,114.5 351.5,114.4 352.2,113.4 352.8,112.7 353.5,113.9 355.6,114.7 356.2,113.9 356.9,115.9 357.6,114.7 358.3,112.5 360.3,112.4 361.0,113.0 361.6,112.2 365.0,113.6 365.7,114.2 366.4,113.5 367.1,113.1 367.7,115.4 369.8,118.4 370.4,120.4 371.1,136.6 371.8,118.9 372.5,116.3 374.5,117.0 375.2,117.1 375.9,116.6 376.5,119.5 377.2,118.7 379.2,119.1 379.9,119.6 380.6,115.9 381.3,113.9 381.9,112.8 384.0,113.8 384.7,116.2 385.3,117.3 386.0,115.7 386.7,114.1 388.7,114.4 389.4,113.7 390.1,113.7 390.7,112.3 391.4,113.9 393.5,113.2 394.1,114.1 394.8,114.0 395.5,114.2 396.2,114.4 398.2,114.4 398.9,114.9 399.5,115.8 400.2,116.8 400.9,115.8 402.9,114.3 403.6,115.0 404.3,114.0 405.0,115.2 405.6,115.1 407.7,114.1 408.3,113.2 409.0,112.2 409.7,113.4 410.4,112.6 412.4,114.8 413.1,115.3 413.8,116.3 414.4,118.2 415.1,116.9 417.1,116.0 417.8,114.6 418.5,114.7 419.2,113.6 419.8,114.2 421.9,114.0 422.6,114.7 423.2,116.3 423.9,117.3 424.6,118.3 426.6,114.7 427.3,113.1 428.0,113.5 434.1,113.0 436.1,113.8 436.8,114.9 437.4,114.0 438.1,116.3 438.8,115.7 440.8,114.2 441.5,113.4 442.2,113.4 442.9,113.2 443.5,114.5 445.6,115.8 446.2,115.6 446.9,115.6 447.6,115.6 448.3,115.6 450.3,114.6 451.0,115.6 451.7,115.8 452.3,116.9 453.0,116.3 455.0,115.0 455.7,112.2 456.4,113.4 457.1,113.2 457.7,113.5 459.8,114.8 460.4,114.6 461.1,112.6 461.8,113.0 462.5,114.1 464.5,114.4 465.2,113.3 465.9,113.3 466.5,113.8 467.2,113.6 469.2,114.8 469.9,114.7 470.6,114.6 471.3,113.1 472.0,112.6 474.0,114.4 474.7,113.9 475.3,113.9 476.0,115.0 476.7,115.6 478.7,114.4 479.4,113.6 480.1,112.5 480.7,114.1 481.4,111.2 483.5,113.2 484.1,112.4 484.8,112.7 485.5,113.3 486.2,114.1 488.2,115.7 488.9,115.5 489.5,114.8 490.2,114.2" fill="none" stroke="none" marker-start="url(#mb)" marker-mid="url(#mb)" marker-end="url(#mb)"/>
<polyline points="265.6,104.8 266.2,102.3 266.9,99.2 267.6,103.0 268.3,103.9 270.3,105.1 271.0,105.3 271.6,106.1 272.3,106.9 273.0,106.9 275.0,107.6 275.7,106.9 276.4,105.6 277.1,105.9 277.7,105.7 279.8,105.9 280.4,104.8 281.1,104.7 281.8,105.0 282.5,103.9 284.5,104.0 285.2,102.3 285.9,103.4 286.5,105.9 287.2,105.7 289.2,106.4 289.9,105.9 290.6,104.8 291.3,102.4 291.9,101.4 294.0,102.5 294.7,102.3 295.3,103.5 296.0,100.7 296.7,101.3 298.7,102.3 299.4,102.7 300.1,101.4 300.7,102.0 301.4,105.8 303.4,106.5 304.1,106.1 304.8,105.5 305.5,106.2 306.2,106.2 308.9,106.3 309.5,105.7 310.2,106.6 310.9,106.3 312.9,106.6 313.6,106.3 314.3,106.1 315.0,106.7 315.6,106.3 317.7,106.7 318.3,106.1 319.0,105.5 319.7,105.8 320.4,106.2 322.4,104.6 323.1,106.3 323.8,105.1 324.4,106.4 328.5,107.3 329.2,104.0 329.8,105.0 331.9,106.7 332.5,105.9 333.2,106.2 333.9,105.9 334.6,106.6 336.6,106.8 337.3,106.2 338.0,106.0 338.6,105.2 339.3,105.6 341.3,104.0 342.0,105.2 342.7,104.3 343.4,105.9 344.1,106.5 346.1,105.4 346.8,106.2 347.4,104.9 348.1,104.8 348.8,105.9 350.8,106.0 351.5,106.1 352.2,106.0 352.8,105.6 353.5,106.1 355.6,106.9 356.2,106.1 356.9,104.6 357.6,105.8 358.3,106.3 360.3,105.6 361.0,106.4 361.6,106.3 365.0,106.4 365.7,106.5 366.4,106.4 367.1,106.5 367.7,105.6 369.8,102.8 370.4,101.0 371.1,96.1 371.8,102.6 372.5,105.0 374.5,103.5 375.2,104.1 375.9,103.4 376.5,102.0 377.2,100.9 379.2,102.2 379.9,101.7 380.6,104.1 381.3,106.2 381.9,104.5 384.0,104.0 384.7,103.8 385.3,102.2 386.0,103.2 386.7,105.0 388.7,105.1 389.4,106.1 390.1,106.0 390.7,105.5 391.4,105.1 393.5,105.0 394.1,105.1 394.8,106.2 395.5,104.2 396.2,104.5 398.2,104.3 398.9,104.6 399.5,104.4 400.2,104.0 400.9,104.1 402.9,106.0 403.6,104.7 404.3,103.6 405.0,106.1 405.6,105.1 407.7,106.1 408.3,107.0 409.0,106.2 409.7,107.4 410.4,106.1 412.4,104.9 413.1,105.2 413.8,104.6 414.4,103.8 415.1,104.6 417.1,104.2 417.8,106.1 418.5,105.8 419.2,107.2 419.8,105.4 421.9,105.4 422.6,106.3 423.2,104.3 423.9,104.3 424.6,103.8 426.6,103.4 427.3,105.5 428.0,106.1 434.1,105.2 436.1,105.7 436.8,104.5 437.4,104.8 438.1,105.2 438.8,105.2 440.8,105.1 441.5,105.6 442.2,106.4 442.9,106.5 443.5,106.1 445.6,105.7 446.2,103.8 446.9,105.0 447.6,105.8 448.3,105.6 450.3,105.1 451.0,104.9 451.7,104.9 452.3,104.8 453.0,104.3 455.0,106.0 455.7,106.8 456.4,106.3 457.1,106.6 457.7,105.7 459.8,105.0 460.4,105.0 461.1,105.6 461.8,105.0 462.5,106.3 464.5,106.8 465.2,105.8 465.9,106.0 466.5,106.3 467.2,105.3 469.2,105.2 469.9,106.3 470.6,105.9 471.3,106.8 472.0,107.1 474.0,107.4 474.7,106.5 475.3,105.9 476.0,105.3 476.7,105.8 478.7,105.3 479.4,106.5 480.1,106.3 480.7,105.7 481.4,107.0 483.5,107.1 484.1,106.2 484.8,106.7 485.5,106.4 486.2,105.7 488.2,104.5 488.9,105.7 489.5,105.1 490.2,105.5" fill="none" stroke="none" marker-start="url(#my)" marker-mid="url(#my)" marker-end="url(#my)"/>
<polyline points="265.6,112.1 266.2,115.3 266.9,119.9 267.6,115.1 268.3,113.5 270.3,111.6 271.0,111.4 271.6,112.1 272.3,111.5 273.0,110.4 275.0,111.3 275.7,112.2 276.4,112.3 277.1,112.8 277.7,112.2 279.8,111.5 280.4,112.4 281.1,112.2 281.8,111.4 282.5,112.7 284.5,113.9 285.2,116.0 285.9,114.6 286.5,112.8 287.2,111.0 289.2,112.1 289.9,112.3 290.6,112.6 291.3,115.7 291.9,115.8 294.0,116.4 294.7,115.1 295.3,115.6 296.0,115.6 296.7,115.9 298.7,115.2 299.4,116.8 300.1,116.1 300.7,116.2 301.4,111.6 303.4,112.8 304.1,111.5 304.8,112.2 305.5,112.3 306.2,112.1 308.9,112.4 309.5,111.5 310.2,112.1 310.9,111.9 312.9,111.5 313.6,112.0 314.3,112.0 315.0,112.1 315.6,112.0 317.7,111.4 318.3,110.9 319.0,112.1 319.7,110.9 320.4,111.6 322.4,112.6 323.1,111.6 323.8,112.7 324.4,112.6 328.5,112.9 329.2,112.6 329.8,112.2 331.9,112.0 332.5,111.5 333.2,112.5 333.9,110.9 334.6,111.9 336.6,112.1 337.3,111.9 338.0,112.0 338.6,112.0 339.3,112.0 341.3,112.6 342.0,112.8 342.7,113.0 343.4,113.2 344.1,112.5 346.1,112.1 346.8,111.1 347.4,113.1 348.1,112.2 348.8,112.8 350.8,112.5 351.5,111.7 352.2,111.1 352.8,111.3 353.5,111.2 355.6,111.9 356.2,111.8 356.9,112.2 357.6,112.0 358.3,110.3 360.3,111.0 361.0,111.0 361.6,111.6 365.0,111.6 365.7,111.3 366.4,112.3 367.1,111.2 367.7,112.3 369.8,115.1 370.4,117.5 371.1,122.1 371.8,114.9 372.5,114.0 374.5,113.6 375.2,114.9 375.9,113.3 376.5,116.4 377.2,115.3 379.2,116.6 379.9,115.3 380.6,112.9 381.3,111.6 381.9,111.9 384.0,112.5 384.7,112.1 385.3,115.2 386.0,113.7 386.7,112.1 388.7,112.2 389.4,110.8 390.1,110.4 390.7,111.7 391.4,112.5 393.5,111.2 394.1,111.5 394.8,112.0 395.5,111.7 396.2,112.6 398.2,112.2 398.9,113.1 399.5,113.7 400.2,112.8 400.9,113.3 402.9,111.4 403.6,111.9 404.3,112.3 405.0,111.9 405.6,111.6 407.7,111.9 408.3,112.0 409.0,110.9 409.7,110.4 410.4,111.7 412.4,112.6 413.1,112.3 413.8,113.2 414.4,114.1 415.1,113.5 417.1,113.5 417.8,112.6 418.5,112.3 419.2,111.2 419.8,111.2 421.9,113.1 422.6,112.6 423.2,112.7 423.9,113.5 424.6,113.3 426.6,112.9 427.3,112.7 428.0,111.3 434.1,112.3 436.1,113.0 436.8,111.6 437.4,112.7 438.1,113.0 438.8,113.5 440.8,112.8 441.5,112.4 442.2,111.9 442.9,111.4 443.5,113.1 445.6,112.2 446.2,113.4 446.9,113.1 447.6,112.1 448.3,112.5 450.3,112.9 451.0,111.3 451.7,113.0 452.3,112.9 453.0,113.1 455.0,111.9 455.7,111.7 456.4,110.6 457.1,111.6 457.7,111.3 459.8,112.7 460.4,112.3 461.1,110.6 461.8,111.1 462.5,111.5 464.5,110.6 465.2,111.4 465.9,112.0 466.5,111.0 467.2,112.0 469.2,111.9 469.9,111.8 470.6,112.4 471.3,111.9 472.0,111.1 474.0,111.6 474.7,112.3 475.3,111.6 476.0,113.3 476.7,112.4 478.7,112.2 479.4,112.0 480.1,111.3 480.7,111.9 481.4,110.8 483.5,111.2 484.1,111.6 484.8,112.3 485.5,112.4 486.2,111.8 488.2,113.0 488.9,112.9 489.5,111.6 490.2,110.7" fill="none" stroke="none" marker-start="url(#my)" marker-mid="url(#my)" marker-end="url(#my)"/>
<polyline points="265.6,91.8 266.2,67.7 266.9,44.3 267.6,62.3 268.3,78.5 270.3,87.9 271.0,88.1 271.6,87.0 272.3,88.7 273.0,93.3 275.0,89.9 275.7,87.1 276.4,84.5 277.1,81.7 277.7,84.0 279.8,86.3 280.4,85.6 281.1,82.6 281.8,80.1 282.5,76.8 284.5,70.8 285.2,59.1 285.9,72.5 286.5,83.2 287.2,83.8 289.2,84.8 289.9,87.4 290.6,84.8 291.3,78.2 291.9,71.5 294.0,66.9 294.7,59.1 295.3,64.5 296.0,67.7 296.7,69.2 298.7,68.5 299.4,66.1 300.1,66.3 300.7,68.4 301.4,91.0 303.4,91.8 304.1,88.2 304.8,84.8 305.5,86.3 306.2,87.9 308.9,81.7 309.5,83.1 310.2,86.2 310.9,88.7 312.9,87.0 313.6,89.4 314.3,89.4 315.0,86.7 315.6,85.5 317.7,88.4 318.3,91.0 319.0,90.0 319.7,88.2 320.4,87.9 322.4,81.7 323.1,83.6 323.8,86.3 324.4,87.9 328.5,86.0 329.2,81.7 329.8,85.4 331.9,88.7 332.5,86.5 333.2,88.1 333.9,86.6 334.6,84.8 336.6,91.0 337.3,89.9 338.0,88.0 338.6,85.0 339.3,84.8 341.3,81.8 342.0,78.5 342.7,74.7 343.4,78.9 344.1,86.3 346.1,88.7 346.8,84.4 347.4,81.0 348.1,77.0 348.8,82.8 350.8,86.3 351.5,86.0 352.2,84.8 352.8,86.7 353.5,90.0 355.6,92.5 356.2,84.7 356.9,76.2 357.6,85.2 358.3,94.1 360.3,95.1 361.0,93.3 361.6,87.9 365.0,89.5 365.7,87.2 366.4,86.3 367.1,86.9 367.7,87.9 369.8,49.8 370.4,30.8 371.1,10.5 371.8,41.7 372.5,73.9 374.5,68.4 375.2,68.9 375.9,70.8 376.5,65.2 377.2,57.5 379.2,58.3 379.9,72.8 380.6,85.0 381.3,84.2 381.9,80.6 384.0,80.0 384.7,72.9 385.3,65.9 386.0,72.1 386.7,78.0 388.7,82.4 389.4,84.5 390.1,85.2 390.7,80.6 391.4,80.0 393.5,80.2 394.1,82.9 394.8,83.0 395.5,81.2 396.2,81.3 398.2,78.0 398.9,75.4 399.5,75.9 400.2,75.1 400.9,73.7 402.9,82.0 403.6,80.1 404.3,81.2 405.0,79.9 405.6,84.8 407.7,88.7 408.3,93.5 409.0,96.2 409.7,92.6 410.4,87.7 412.4,85.0 413.1,80.9 413.8,75.7 414.4,70.5 415.1,75.2 417.1,80.0 417.8,84.1 418.5,89.1 419.2,91.5 419.8,85.0 421.9,82.0 422.6,79.9 423.2,75.1 423.9,70.8 424.6,69.0 426.6,74.2 427.3,79.7 428.0,84.0 434.1,87.7 436.1,85.0 436.8,82.2 437.4,80.3 438.1,76.8 438.8,81.5 440.8,85.0 441.5,88.1 442.2,90.1 442.9,90.8 443.5,87.2 445.6,82.2 446.2,78.3 446.9,80.2 447.6,81.7 448.3,81.9 450.3,84.0 451.0,81.8 451.7,79.2 452.3,75.6 453.0,74.4 455.0,80.2 455.7,87.5 456.4,93.1 457.1,89.2 457.7,86.2 459.8,84.5 460.4,81.4 461.1,84.2 461.8,87.8 462.5,92.3 464.5,91.2 465.2,87.6 465.9,88.9 466.5,86.0 467.2,82.4 469.2,79.9 469.9,81.4 470.6,85.3 471.3,91.6 472.0,93.9 474.0,90.4 474.7,89.7 475.3,86.0 476.0,82.5 476.7,80.7 478.7,85.3 479.4,85.3 480.1,88.0 480.7,90.0 481.4,91.4 483.5,93.1 484.1,92.9 484.8,89.7 485.5,88.8 486.2,86.0 488.2,80.5 488.9,76.0 489.5,77.6 490.2,80.0" fill="none" stroke="#77AC30" stroke-width="1.5" stroke-linejoin="round" marker-start="url(#mg)" marker-mid="url(#mg)" marker-end="url(#mg)"/>
<polyline points="265.6,124.2 266.2,147.0 266.9,167.8 267.6,152.0 268.3,136.7 270.3,126.6 271.0,127.4 271.6,128.9 272.3,128.0 273.0,124.2 275.0,127.0 275.7,129.7 276.4,132.5 277.1,132.8 277.7,133.6 279.8,129.7 280.4,130.2 281.1,131.2 281.8,130.2 282.5,132.0 284.5,144.4 285.2,154.5 285.9,145.7 286.5,132.8 287.2,131.4 289.2,128.9 289.9,130.4 290.6,132.0 291.3,139.2 291.9,144.4 294.0,146.8 294.7,154.5 295.3,151.5 296.0,148.3 296.7,145.2 298.7,148.3 299.4,146.9 300.1,146.0 300.7,124.2 301.4,126.9 303.4,128.1 304.1,130.5 304.8,130.3 305.5,131.2 306.2,128.9 308.9,133.6 309.5,128.2 310.2,125.8 310.9,126.1 312.9,128.1 313.6,131.4 314.3,128.9 315.0,129.7 315.6,127.7 317.7,125.8 318.3,126.8 319.0,127.5 319.7,128.1 320.4,130.5 322.4,133.6 323.1,129.9 323.8,130.0 324.4,127.3 328.5,132.4 329.2,133.6 329.8,130.2 331.9,128.9 332.5,126.8 333.2,126.0 333.9,124.5 334.6,123.4 336.6,129.7 337.3,128.5 338.0,125.8 338.6,125.6 339.3,125.0 341.3,135.1 342.0,138.5 342.7,140.6 343.4,135.0 344.1,130.4 346.1,127.7 346.8,124.2 347.4,130.9 348.1,137.4 348.8,134.3 350.8,130.4 351.5,129.4 352.2,127.8 352.8,126.6 353.5,128.4 355.6,129.7 356.2,133.0 356.9,138.2 357.6,129.8 358.3,122.7 360.3,123.0 361.0,123.3 361.6,122.7 365.0,127.3 365.7,128.9 366.4,128.0 367.1,127.0 367.7,129.7 369.8,163.1 370.4,182.0 371.1,198.8 371.8,169.8 372.5,138.2 374.5,142.9 375.2,136.0 375.9,127.3 376.5,139.3 377.2,154.5 379.2,154.5 379.9,141.3 380.6,135.8 381.3,130.5 381.9,124.2 384.0,132.0 384.7,138.6 385.3,148.3 386.0,139.6 386.7,128.9 388.7,128.1 389.4,126.0 390.1,125.0 390.7,126.1 391.4,127.3 393.5,128.9 394.1,131.3 394.8,133.6 395.5,132.6 396.2,130.9 398.2,130.4 398.9,133.2 399.5,137.1 400.2,140.6 400.9,136.3 402.9,134.8 403.6,128.9 404.3,130.1 405.0,132.3 405.6,135.1 407.7,132.2 408.3,126.2 409.0,121.1 409.7,124.1 410.4,126.0 412.4,132.0 413.1,135.9 413.8,139.4 414.4,141.3 415.1,139.4 417.1,138.4 417.8,135.1 418.5,133.5 419.2,128.3 419.8,126.6 421.9,132.8 422.6,136.4 423.2,138.5 423.9,142.2 424.6,145.2 426.6,132.8 427.3,132.2 428.0,128.9 434.1,128.1 436.1,129.9 436.8,131.2 437.4,132.0 438.1,136.7 438.8,136.7 440.8,130.4 441.5,128.7 442.2,128.3 442.9,126.6 443.5,129.7 445.6,134.6 446.2,136.7 446.9,134.3 447.6,133.1 448.3,134.0 450.3,130.4 451.0,132.1 451.7,133.7 452.3,137.9 453.0,139.8 455.0,135.3 455.7,125.7 456.4,122.7 457.1,124.4 457.7,130.1 459.8,132.8 460.4,131.7 461.1,127.5 461.8,124.2 462.5,127.9 464.5,128.9 465.2,127.4 465.9,127.6 466.5,125.9 467.2,124.2 469.2,135.9 469.9,133.5 470.6,130.9 471.3,127.4 472.0,124.2 474.0,127.7 474.7,128.6 475.3,129.7 476.0,132.8 476.7,131.6 478.7,130.4 479.4,129.9 480.1,126.4 480.7,125.8 481.4,123.4 483.5,124.2 484.1,125.2 484.8,127.2 485.5,129.1 486.2,129.7 488.2,134.1 488.9,138.2 489.5,131.2 490.2,124.2" fill="none" stroke="#77AC30" stroke-width="1.5" stroke-linejoin="round" marker-start="url(#mg)" marker-mid="url(#mg)" marker-end="url(#mg)"/>
<polyline points="265.6,100.3 266.2,95.4 266.9,87.2 267.6,95.1 268.3,99.2 270.3,100.7 271.0,101.1 271.6,102.4 272.3,103.4 273.0,103.6 275.0,101.3 275.7,104.0 276.4,100.1 277.1,100.7 277.7,99.5 279.8,102.0 280.4,101.1 281.1,101.2 281.8,99.8 282.5,96.4 284.5,94.6 285.2,93.7 285.9,96.8 286.5,101.2 287.2,100.7 289.2,100.8 289.9,101.4 290.6,100.5 291.3,94.1 291.9,92.1 294.0,93.1 294.7,91.2 295.3,93.3 296.0,92.0 296.7,94.8 298.7,94.2 299.4,94.4 300.1,93.0 300.7,92.6 301.4,102.7 303.4,102.4 304.1,102.0 304.8,100.7 305.5,101.3 306.2,102.0 308.9,100.7 309.5,100.3 310.2,101.6 310.9,101.6 312.9,101.6 313.6,103.4 314.3,102.1 315.0,102.6 315.6,101.6 317.7,102.2 318.3,104.5 319.0,102.4 319.7,101.8 320.4,101.6 322.4,100.3 323.1,100.6 323.8,102.0 324.4,101.8 328.5,101.5 329.2,99.8 329.8,101.9 331.9,101.6 332.5,101.3 333.2,101.8 333.9,101.7 334.6,100.5 336.6,104.0 337.3,102.1 338.0,101.5 338.6,100.6 339.3,100.2 341.3,100.1 342.0,98.6 342.7,96.8 343.4,98.3 344.1,100.8 346.1,103.1 346.8,100.1 347.4,98.2 348.1,97.4 348.8,99.6 350.8,102.4 351.5,100.2 352.2,100.9 352.8,103.6 353.5,102.1 355.6,104.2 356.2,101.7 356.9,98.9 357.6,99.7 358.3,103.9 360.3,103.6 361.0,102.0 361.6,100.7 365.0,102.2 365.7,101.8 366.4,102.4 367.1,102.0 367.7,99.5 369.8,93.9 370.4,91.5 371.1,80.3 371.8,94.9 372.5,97.2 374.5,96.6 375.2,96.7 375.9,96.3 376.5,93.6 377.2,92.6 379.2,92.9 379.9,94.1 380.6,101.5 381.3,99.8 381.9,99.3 384.0,98.3 384.7,97.8 385.3,94.8 386.0,96.6 386.7,98.9 388.7,101.7 389.4,100.8 390.1,99.8 390.7,99.0 391.4,99.5 393.5,99.1 394.1,99.2 394.8,102.3 395.5,99.5 396.2,98.7 398.2,97.6 398.9,95.9 399.5,96.4 400.2,96.8 400.9,96.9 402.9,98.5 403.6,99.6 404.3,99.3 405.0,98.4 405.6,98.9 407.7,102.2 408.3,103.7 409.0,103.7 409.7,102.2 410.4,101.8 412.4,99.4 413.1,100.0 413.8,97.5 414.4,96.1 415.1,96.5 417.1,98.0 417.8,101.8 418.5,102.9 419.2,102.3 419.8,101.5 421.9,101.0 422.6,97.8 423.2,96.8 423.9,95.3 424.6,95.7 426.6,95.9 427.3,99.0 428.0,99.4 434.1,102.2 436.1,101.5 436.8,99.6 437.4,99.6 438.1,97.6 438.8,99.2 440.8,101.5 441.5,101.7 442.2,102.8 442.9,101.8 443.5,102.0 445.6,100.1 446.2,97.5 446.9,97.0 447.6,97.7 448.3,99.6 450.3,100.0 451.0,98.2 451.7,98.7 452.3,98.3 453.0,97.1 455.0,98.7 455.7,102.3 456.4,104.6 457.1,103.5 457.7,100.6 459.8,101.1 460.4,99.8 461.1,100.3 461.8,101.2 462.5,103.4 464.5,102.4 465.2,102.7 465.9,102.2 466.5,101.9 467.2,98.9 469.2,99.1 469.9,100.2 470.6,101.3 471.3,103.1 472.0,103.0 474.0,104.2 474.7,103.2 475.3,101.4 476.0,97.7 476.7,98.6 478.7,100.7 479.4,100.3 480.1,100.0 480.7,102.7 481.4,103.3 483.5,102.5 484.1,103.0 484.8,101.9 485.5,102.4 486.2,99.3 488.2,97.6 488.9,97.3 489.5,97.5 490.2,100.6" fill="none" stroke="#A2142F" stroke-width="1.4" stroke-linejoin="round" marker-start="url(#mr)" marker-mid="url(#mr)" marker-end="url(#mr)"/>
<polyline points="265.6,114.7 266.2,122.5 266.9,133.1 267.6,122.4 268.3,119.2 270.3,117.0 271.0,115.0 271.6,116.4 272.3,115.7 273.0,115.0 275.0,115.5 275.7,118.2 276.4,116.0 277.1,117.1 277.7,116.4 279.8,114.6 280.4,116.3 281.1,118.2 281.8,117.2 282.5,118.5 284.5,121.8 285.2,123.5 285.9,123.5 286.5,117.5 287.2,118.0 289.2,115.8 289.9,116.5 290.6,117.5 291.3,124.1 291.9,125.5 294.0,126.4 294.7,126.7 295.3,124.2 296.0,124.1 296.7,123.1 298.7,122.5 299.4,124.2 300.1,125.5 300.7,123.8 301.4,115.1 303.4,115.7 304.1,116.6 304.8,116.3 305.5,116.9 306.2,116.3 308.9,118.0 309.5,116.1 310.2,112.9 310.9,115.0 312.9,115.8 313.6,116.0 314.3,115.4 315.0,117.0 315.6,115.6 317.7,114.1 318.3,114.9 319.0,115.3 319.7,114.3 320.4,117.1 322.4,117.2 323.1,116.9 323.8,114.8 324.4,117.4 328.5,117.5 329.2,117.8 329.8,115.9 331.9,115.3 332.5,114.0 333.2,116.2 333.9,113.7 334.6,114.5 336.6,116.4 337.3,115.2 338.0,115.7 338.6,116.5 339.3,115.3 341.3,119.1 342.0,119.8 342.7,119.4 343.4,117.8 344.1,115.1 346.1,115.6 346.8,116.0 347.4,117.2 348.1,119.3 348.8,118.8 350.8,116.2 351.5,116.6 352.2,117.2 352.8,114.6 353.5,115.8 355.6,115.9 356.2,117.3 356.9,118.0 357.6,116.2 358.3,113.1 360.3,113.8 361.0,113.8 361.6,113.8 365.0,116.4 365.7,115.9 366.4,115.8 367.1,115.2 367.7,118.8 369.8,121.6 370.4,125.6 371.1,138.1 371.8,124.5 372.5,120.7 374.5,120.5 375.2,121.0 375.9,120.3 376.5,125.6 377.2,123.8 379.2,124.7 379.9,124.1 380.6,117.5 381.3,114.1 381.9,115.7 384.0,117.3 384.7,120.2 385.3,121.3 386.0,120.6 386.7,116.8 388.7,115.5 389.4,115.7 390.1,115.4 390.7,115.3 391.4,117.1 393.5,117.2 394.1,117.1 394.8,117.3 395.5,117.3 396.2,118.2 398.2,117.0 398.9,116.8 399.5,118.3 400.2,119.8 400.9,119.4 402.9,117.2 403.6,116.7 404.3,117.4 405.0,117.8 405.6,116.6 407.7,116.7 408.3,113.9 409.0,114.6 409.7,113.3 410.4,115.5 412.4,117.0 413.1,116.2 413.8,118.9 414.4,120.6 415.1,119.8 417.1,118.9 417.8,117.1 418.5,117.8 419.2,117.3 419.8,115.7 421.9,117.1 422.6,118.4 423.2,118.2 423.9,120.3 424.6,120.3 426.6,118.8 427.3,116.2 428.0,114.1 434.1,115.0 436.1,116.0 436.8,116.5 437.4,115.6 438.1,119.2 438.8,118.5 440.8,116.2 441.5,115.2 442.2,116.0 442.9,115.0 443.5,116.5 445.6,117.7 446.2,118.6 446.9,118.9 447.6,117.5 448.3,116.7 450.3,117.5 451.0,117.2 451.7,117.1 452.3,119.9 453.0,119.3 455.0,118.8 455.7,114.0 456.4,112.1 457.1,112.7 457.7,116.3 459.8,116.4 460.4,116.6 461.1,115.3 461.8,113.1 462.5,116.5 464.5,114.8 465.2,115.4 465.9,114.1 466.5,114.6 467.2,115.4 469.2,117.5 469.9,116.9 470.6,116.5 471.3,114.9 472.0,114.9 474.0,117.2 474.7,115.0 475.3,115.6 476.0,116.9 476.7,116.8 478.7,115.5 479.4,116.5 480.1,115.7 480.7,114.8 481.4,113.1 483.5,115.4 484.1,113.5 484.8,115.8 485.5,116.8 486.2,115.2 488.2,117.8 488.9,119.8 489.5,117.0 490.2,113.7" fill="none" stroke="#A2142F" stroke-width="1.4" stroke-linejoin="round" marker-start="url(#mr)" marker-mid="url(#mr)" marker-end="url(#mr)"/>
<line x1="265.6" y1="109.5" x2="490.2" y2="109.5" stroke="#000" stroke-width="1.2" stroke-dasharray="4.8 1.9 0.8 2.4"/>
</g>
<rect x="264.2" y="4.3" width="226.7" height="227.0" fill="none" stroke="#4a4a4a" stroke-width="1"/>
<path d="M284.0,231.3v-3.3M284.0,4.3v3.3M305.0,231.3v-3.3M305.0,4.3v3.3M325.3,231.3v-3.3M325.3,4.3v3.3M346.3,231.3v-3.3M346.3,4.3v3.3M366.6,231.3v-3.3M366.6,4.3v3.3M387.6,231.3v-3.3M387.6,4.3v3.3M408.5,231.3v-3.3M408.5,4.3v3.3M428.8,231.3v-3.3M428.8,4.3v3.3M449.8,231.3v-3.3M449.8,4.3v3.3M470.1,231.3v-3.3M470.1,4.3v3.3M264.2,213.8h3.0M490.9,213.8h-3.0M264.2,178.9h3.0M490.9,178.9h-3.0M264.2,144.0h3.0M490.9,144.0h-3.0M264.2,109.1h3.0M490.9,109.1h-3.0M264.2,74.1h3.0M490.9,74.1h-3.0M264.2,39.2h3.0M490.9,39.2h-3.0M264.2,4.3h3.0M490.9,4.3h-3.0" stroke="#666" stroke-width="1" fill="none"/>
<text class="t" style="font-size:9.6px" text-anchor="end" transform="translate(261.7,218.3) scale(0.69,1)">-0.6</text>
<text class="t" style="font-size:9.6px" text-anchor="end" transform="translate(261.7,183.4) scale(0.69,1)">-0.4</text>
<text class="t" style="font-size:9.6px" text-anchor="end" transform="translate(261.7,148.5) scale(0.69,1)">-0.2</text>
<text class="t" style="font-size:9.6px" text-anchor="end" transform="translate(261.7,113.6) scale(0.69,1)">0</text>
<text class="t" style="font-size:9.6px" text-anchor="end" transform="translate(261.7,78.6) scale(0.69,1)">0.2</text>
<text class="t" style="font-size:9.6px" text-anchor="end" transform="translate(261.7,43.7) scale(0.69,1)">0.4</text>
<text class="t" style="font-size:9.6px" text-anchor="end" transform="translate(261.7,8.8) scale(0.69,1)">0.6</text>
<text class="t" text-anchor="middle" transform="translate(264.2,245.9) scale(0.69,1)">Feb</text>
<text class="t" text-anchor="middle" transform="translate(283.8,245.9) scale(0.69,1)">Mar</text>
<text class="t" text-anchor="middle" transform="translate(304.8,245.9) scale(0.69,1)">Apr</text>
<text class="t" text-anchor="middle" transform="translate(325.1,245.9) scale(0.69,1)">May</text>
<text class="t" text-anchor="middle" transform="translate(346.1,245.9) scale(0.69,1)">Jun</text>
<text class="t" text-anchor="middle" transform="translate(366.4,245.9) scale(0.69,1)">Jul</text>
<text class="t" text-anchor="middle" transform="translate(387.4,245.9) scale(0.69,1)">Aug</text>
<text class="t" text-anchor="middle" transform="translate(408.3,245.9) scale(0.69,1)">Sep</text>
<text class="t" text-anchor="middle" transform="translate(428.6,245.9) scale(0.69,1)">Oct</text>
<text class="t" text-anchor="middle" transform="translate(449.6,245.9) scale(0.69,1)">Nov</text>
<text class="t" text-anchor="middle" transform="translate(469.9,245.9) scale(0.69,1)">Dec</text>
<text class="t" text-anchor="middle" transform="translate(490.9,245.9) scale(0.69,1)">Jan</text>
<text class="t" text-anchor="middle" transform="translate(478.3,257.9) scale(0.69,1)">2020</text>
<text class="s ti" font-size="14.6" x="404.5" y="26.1" textLength="32.4" lengthAdjust="spacingAndGlyphs">CAC40</text>
<rect x="438.1" y="22.1" width="6.7" height="0.9" fill="#111"/>
<path d="M449.4,18.1L455.2,22.4L449.4,26.7" fill="none" stroke="#111" stroke-width="0.9"/>
<text class="s ti" font-size="14.6" x="456.2" y="26.1" textLength="18.6" lengthAdjust="spacingAndGlyphs">SSE</text>
<rect x="397.0" y="164.2" width="88.9" height="59.4" fill="#fff" stroke="#4a4a4a" stroke-width="0.9"/>
<path d="M407.2,171.2l1.4,-2.3l1.4,2.3l-1.4,2.3z" fill="#0072BD"/>
<text class="s" style="stroke:#000;stroke-width:0.15" font-size="9" x="419.6" y="173.6" textLength="55.5" lengthAdjust="spacingAndGlyphs">VaR(<tspan font-style="italic">α</tspan> = 0.01, 0.99)</text>
<ellipse cx="408.6" cy="182.7" rx="1.1" ry="1.2" fill="#EDB120"/>
<text class="s" style="stroke:#000;stroke-width:0.15" font-size="9" x="419.6" y="185.1" textLength="55.5" lengthAdjust="spacingAndGlyphs">VaR(<tspan font-style="italic">α</tspan> = 0.05, 0.95)</text>
<line x1="398.5" y1="194.2" x2="418.4" y2="194.2" stroke="#77AC30" stroke-width="1.3"/>
<path d="M407.0,194.2l1.6,-2.4l1.6,2.4l-1.6,2.4z" fill="#77AC30"/>
<text class="s" style="stroke:#000;stroke-width:0.15" font-size="9" x="419.6" y="196.6" textLength="63.4" lengthAdjust="spacingAndGlyphs">CoVaR(<tspan font-style="italic">α</tspan> = 0.01, 0.99)</text>
<line x1="398.5" y1="205.7" x2="418.4" y2="205.7" stroke="#A2142F" stroke-width="1.3"/>
<path d="M407.3,205.7l1.3,-1.8l1.3,1.8l-1.3,1.8z" fill="#A2142F"/>
<text class="s" style="stroke:#000;stroke-width:0.15" font-size="9" x="419.6" y="208.1" textLength="63.4" lengthAdjust="spacingAndGlyphs">CoVaR(<tspan font-style="italic">α</tspan> = 0.05, 0.95)</text>
<line x1="398.5" y1="217.2" x2="418.4" y2="217.2" stroke="#262626" stroke-width="1.1" stroke-dasharray="5.7 2 0.8 2.2"/>
<text class="s" style="stroke:#000;stroke-width:0.15" font-size="9" x="419.6" y="219.6" textLength="48.0" lengthAdjust="spacingAndGlyphs">CoVaR(<tspan font-style="italic">α</tspan> = 0.50)</text>
<clipPath id="c2"><rect x="514.5" y="4.3" width="227.0" height="227.0"/></clipPath>
<g clip-path="url(#c2)">
<polyline points="515.9,103.7 516.5,99.7 517.2,89.0 517.9,99.0 518.6,102.0 520.6,103.7 521.3,104.2 522.0,104.3 522.6,104.7 523.3,105.2 525.3,104.6 526.0,104.2 526.7,103.5 527.4,102.2 528.1,103.1 530.1,103.2 530.8,102.9 531.4,102.6 532.1,101.1 532.8,101.8 534.8,99.4 535.5,98.9 536.2,99.4 536.9,101.8 537.5,104.1 539.6,103.9 540.2,103.5 540.9,102.9 541.6,98.2 542.3,97.9 544.3,98.3 545.0,97.7 545.7,99.8 546.3,97.2 547.0,100.4 549.1,99.0 549.7,99.6 550.4,97.6 551.1,98.3 551.8,104.6 553.8,104.8 554.5,104.7 555.2,104.0 555.8,104.5 556.5,103.9 559.2,102.6 559.9,102.5 560.6,103.8 561.3,103.7 563.3,104.0 564.0,104.5 564.6,104.1 565.3,103.4 566.0,103.9 568.0,104.4 568.7,104.9 569.4,104.6 570.1,104.7 570.7,103.4 572.8,103.1 573.5,102.9 574.1,104.1 574.8,103.8 578.9,103.4 579.6,103.1 580.2,102.5 582.3,104.0 582.9,103.0 583.6,103.6 584.3,104.1 585.0,103.8 587.0,104.4 587.7,104.6 588.4,104.1 589.0,103.7 589.7,104.2 591.7,102.7 592.4,102.9 593.1,101.0 593.8,102.4 594.5,103.9 596.5,104.2 597.2,103.2 597.8,103.2 598.5,102.7 599.2,103.4 601.2,104.7 601.9,104.1 602.6,102.7 603.3,104.4 603.9,104.3 606.0,105.6 606.7,103.2 607.3,102.0 608.0,103.5 608.7,105.1 610.7,104.6 611.4,105.2 612.1,104.3 615.5,104.9 616.1,103.7 616.8,103.9 617.5,103.5 618.2,102.9 620.2,98.4 620.9,98.6 621.6,82.7 622.2,98.9 622.9,101.2 625.0,101.4 625.6,101.2 626.3,101.7 627.0,99.1 627.7,96.9 629.7,98.1 630.4,99.3 631.0,103.4 631.7,103.4 632.4,102.0 634.4,102.4 635.1,100.8 635.8,99.0 636.5,99.8 637.1,101.9 639.2,103.3 639.9,104.0 640.5,103.7 641.2,103.6 641.9,101.9 643.9,102.7 644.6,102.6 645.3,101.9 646.0,102.0 646.6,103.0 648.7,101.3 649.3,100.6 650.0,101.6 650.7,101.5 651.4,101.0 653.4,103.2 654.1,101.6 654.8,103.6 655.4,102.9 656.1,103.5 658.2,104.5 658.8,105.3 659.5,105.4 660.2,105.3 660.9,103.6 662.9,104.5 663.6,102.4 664.3,101.5 664.9,100.2 665.6,100.9 667.6,102.7 668.3,103.6 669.0,103.9 669.7,104.5 670.4,103.9 672.4,101.7 673.1,100.9 673.7,101.8 674.4,99.9 675.1,98.5 677.1,100.4 677.8,102.0 678.5,103.3 684.6,104.2 686.6,103.5 687.3,103.1 688.0,101.9 688.6,101.9 689.3,102.8 691.4,104.0 692.0,104.2 692.7,105.1 693.4,104.8 694.1,103.4 696.1,102.6 696.8,101.7 697.5,102.1 698.1,102.6 698.8,102.8 700.8,103.2 701.5,102.2 702.2,102.5 702.9,100.5 703.6,101.1 705.6,102.7 706.3,104.2 706.9,105.4 707.6,104.4 708.3,104.1 710.3,102.7 711.0,103.1 711.7,104.4 712.4,104.5 713.0,106.0 715.1,104.9 715.8,103.7 716.4,103.9 717.1,104.3 717.8,103.2 719.8,101.4 720.5,102.5 721.2,103.6 721.8,104.4 722.5,104.2 724.6,104.2 725.2,104.4 725.9,103.5 726.6,102.6 727.3,102.9 729.3,103.9 730.0,103.6 730.7,104.6 731.3,104.6 732.0,104.9 734.0,104.2 734.7,105.7 735.4,104.7 736.1,104.4 736.8,103.4 738.8,101.8 739.5,101.7 740.1,102.1 740.8,103.0" fill="none" stroke="none" marker-start="url(#mb)" marker-mid="url(#mb)" marker-end="url(#mb)"/>
<polyline points="515.9,114.4 516.5,118.7 517.2,117.8 517.9,120.2 518.6,116.9 520.6,114.1 521.3,113.7 522.0,114.6 522.6,114.1 523.3,114.3 525.3,114.5 526.0,113.6 526.7,116.5 527.4,115.6 528.1,115.4 530.1,115.0 530.8,115.2 531.4,114.9 532.1,114.8 532.8,115.7 534.8,119.7 535.5,120.1 536.2,119.4 536.9,116.2 537.5,114.9 539.6,114.1 540.2,114.2 540.9,115.7 541.6,119.8 542.3,120.4 544.3,121.1 545.0,120.5 545.7,120.5 546.3,121.7 547.0,120.5 549.1,120.9 549.7,120.9 550.4,121.3 551.1,121.4 551.8,114.7 553.8,114.7 554.5,114.7 555.2,114.3 555.8,114.3 556.5,114.7 559.2,115.4 559.9,114.7 560.6,113.3 561.3,113.8 563.3,113.8 564.0,113.8 564.6,114.5 565.3,115.3 566.0,114.5 568.0,114.4 568.7,114.5 569.4,113.2 570.1,114.1 570.7,115.7 572.8,115.0 573.5,114.0 574.1,114.8 574.8,114.6 578.9,115.4 579.6,115.3 580.2,114.4 582.3,113.6 582.9,113.1 583.6,112.8 584.3,112.3 585.0,112.7 587.0,115.2 587.7,114.2 588.4,113.4 589.0,113.6 589.7,113.1 591.7,116.0 592.4,117.5 593.1,116.5 593.8,115.7 594.5,114.7 596.5,113.4 597.2,112.8 597.8,114.7 598.5,117.8 599.2,116.2 601.2,115.1 601.9,115.0 602.6,113.9 603.3,113.1 603.9,114.5 606.0,115.3 606.7,114.4 607.3,116.7 608.0,115.4 608.7,112.9 610.7,112.8 611.4,113.4 612.1,112.5 615.5,114.1 616.1,114.8 616.8,114.0 617.5,113.5 618.2,116.1 620.2,119.4 620.9,121.6 621.6,139.6 622.2,120.0 622.9,117.1 625.0,117.9 625.6,118.0 626.3,117.5 627.0,120.6 627.7,119.8 629.7,120.2 630.4,120.7 631.0,116.6 631.7,114.5 632.4,113.2 634.4,114.4 635.1,116.9 635.8,118.2 636.5,116.4 637.1,114.6 639.2,114.9 639.9,114.3 640.5,114.2 641.2,112.6 641.9,114.4 643.9,113.7 644.6,114.7 645.3,114.5 646.0,114.8 646.6,115.0 648.7,115.0 649.3,115.5 650.0,116.5 650.7,117.6 651.4,116.5 653.4,114.9 654.1,115.6 654.8,114.6 655.4,115.8 656.1,115.8 658.2,114.7 658.8,113.6 659.5,112.6 660.2,113.9 660.9,113.0 662.9,115.5 663.6,115.9 664.3,117.1 664.9,119.2 665.6,117.8 667.6,116.8 668.3,115.2 669.0,115.3 669.7,114.2 670.4,114.8 672.4,114.5 673.1,115.3 673.7,117.1 674.4,118.2 675.1,119.3 677.1,115.4 677.8,113.6 678.5,114.0 684.6,113.5 686.6,114.3 687.3,115.5 688.0,114.6 688.6,117.1 689.3,116.4 691.4,114.8 692.0,113.8 692.7,113.9 693.4,113.7 694.1,115.1 696.1,116.6 696.8,116.3 697.5,116.3 698.1,116.3 698.8,116.3 700.8,115.2 701.5,116.3 702.2,116.6 702.9,117.7 703.6,117.0 705.6,115.7 706.3,112.5 706.9,113.9 707.6,113.6 708.3,114.0 710.3,115.4 711.0,115.2 711.7,113.0 712.4,113.5 713.0,114.6 715.1,115.0 715.8,113.8 716.4,113.7 717.1,114.3 717.8,114.1 719.8,115.5 720.5,115.3 721.2,115.3 721.8,113.6 722.5,112.9 724.6,114.9 725.2,114.4 725.9,114.4 726.6,115.6 727.3,116.3 729.3,115.0 730.0,114.1 730.7,112.8 731.3,114.7 732.0,111.5 734.0,113.7 734.7,112.8 735.4,113.1 736.1,113.8 736.8,114.6 738.8,116.5 739.5,116.2 740.1,115.4 740.8,114.8" fill="none" stroke="none" marker-start="url(#mb)" marker-mid="url(#mb)" marker-end="url(#mb)"/>
<polyline points="515.9,104.9 516.5,102.5 517.2,99.6 517.9,103.2 518.6,104.1 520.6,105.3 521.3,105.5 522.0,106.2 522.6,107.0 523.3,106.9 525.3,107.7 526.0,107.0 526.7,105.7 527.4,106.0 528.1,105.8 530.1,106.0 530.8,104.9 531.4,104.9 532.1,105.2 532.8,104.0 534.8,104.2 535.5,102.6 536.2,103.6 536.9,106.0 537.5,105.8 539.6,106.5 540.2,106.0 540.9,104.9 541.6,102.7 542.3,101.7 544.3,102.7 545.0,102.5 545.7,103.7 546.3,101.0 547.0,101.5 549.1,102.5 549.7,103.0 550.4,101.6 551.1,102.2 551.8,105.9 553.8,106.6 554.5,106.2 555.2,105.6 555.8,106.3 556.5,106.3 559.2,106.4 559.9,105.8 560.6,106.7 561.3,106.4 563.3,106.7 564.0,106.4 564.6,106.2 565.3,106.8 566.0,106.4 568.0,106.8 568.7,106.2 569.4,105.7 570.1,105.9 570.7,106.3 572.8,104.8 573.5,106.4 574.1,105.2 574.8,106.5 578.9,107.4 579.6,104.2 580.2,105.1 582.3,106.8 582.9,106.0 583.6,106.3 584.3,106.0 585.0,106.7 587.0,106.9 587.7,106.3 588.4,106.1 589.0,105.3 589.7,105.7 591.7,104.2 592.4,105.3 593.1,104.4 593.8,106.0 594.5,106.6 596.5,105.6 597.2,106.3 597.8,105.0 598.5,104.9 599.2,106.0 601.2,106.1 601.9,106.2 602.6,106.1 603.3,105.7 603.9,106.2 606.0,107.0 606.7,106.3 607.3,104.8 608.0,105.9 608.7,106.4 610.7,105.7 611.4,106.5 612.1,106.4 615.5,106.5 616.1,106.6 616.8,106.5 617.5,106.6 618.2,105.7 620.2,103.0 620.9,101.3 621.6,96.6 622.2,102.9 622.9,105.1 625.0,103.7 625.6,104.2 626.3,103.6 627.0,102.3 627.7,101.2 629.7,102.5 630.4,102.0 631.0,104.2 631.7,106.3 632.4,104.7 634.4,104.2 635.1,103.9 635.8,102.5 636.5,103.4 637.1,105.2 639.2,105.2 639.9,106.2 640.5,106.1 641.2,105.6 641.9,105.2 643.9,105.1 644.6,105.3 645.3,106.3 646.0,104.3 646.6,104.7 648.7,104.5 649.3,104.8 650.0,104.6 650.7,104.2 651.4,104.2 653.4,106.1 654.1,104.8 654.8,103.8 655.4,106.2 656.1,105.3 658.2,106.2 658.8,107.0 659.5,106.3 660.2,107.5 660.9,106.2 662.9,105.1 663.6,105.4 664.3,104.8 664.9,104.0 665.6,104.7 667.6,104.3 668.3,106.2 669.0,105.9 669.7,107.2 670.4,105.6 672.4,105.5 673.1,106.4 673.7,104.5 674.4,104.5 675.1,104.0 677.1,103.6 677.8,105.7 678.5,106.2 684.6,105.4 686.6,105.8 687.3,104.7 688.0,105.0 688.6,105.3 689.3,105.4 691.4,105.2 692.0,105.8 692.7,106.5 693.4,106.5 694.1,106.2 696.1,105.8 696.8,104.0 697.5,105.2 698.1,105.9 698.8,105.7 700.8,105.2 701.5,105.1 702.2,105.1 702.9,104.9 703.6,104.5 705.6,106.1 706.3,106.8 706.9,106.4 707.6,106.7 708.3,105.8 710.3,105.1 711.0,105.1 711.7,105.7 712.4,105.1 713.0,106.4 715.1,106.8 715.8,105.9 716.4,106.1 717.1,106.4 717.8,105.5 719.8,105.3 720.5,106.4 721.2,106.0 721.8,106.8 722.5,107.2 724.6,107.5 725.2,106.6 725.9,106.0 726.6,105.5 727.3,106.0 729.3,105.5 730.0,106.6 730.7,106.4 731.3,105.8 732.0,107.1 734.0,107.2 734.7,106.3 735.4,106.7 736.1,106.5 736.8,105.8 738.8,104.7 739.5,105.9 740.1,105.3 740.8,105.6" fill="none" stroke="none" marker-start="url(#my)" marker-mid="url(#my)" marker-end="url(#my)"/>
<polyline points="515.9,112.5 516.5,116.0 517.2,113.4 517.9,115.7 518.6,114.0 520.6,111.9 521.3,111.6 522.0,112.5 522.6,111.8 523.3,110.5 525.3,111.6 526.0,112.6 526.7,112.6 527.4,113.3 528.1,112.6 530.1,111.8 530.8,112.8 531.4,112.5 532.1,111.7 532.8,113.1 534.8,114.4 535.5,116.8 536.2,115.2 536.9,113.3 537.5,111.2 539.6,112.4 540.2,112.6 540.9,113.0 541.6,116.5 542.3,116.5 544.3,117.2 545.0,115.8 545.7,116.3 546.3,116.3 547.0,116.6 549.1,115.9 549.7,117.6 550.4,116.9 551.1,116.9 551.8,111.9 553.8,113.2 554.5,111.8 555.2,112.6 555.8,112.6 556.5,112.4 559.2,112.8 559.9,111.8 560.6,112.4 561.3,112.2 563.3,111.8 564.0,112.3 564.6,112.4 565.3,112.5 566.0,112.4 568.0,111.7 568.7,111.1 569.4,112.5 570.1,111.1 570.7,111.9 572.8,113.0 573.5,111.9 574.1,113.1 574.8,113.0 578.9,113.3 579.6,113.0 580.2,112.5 582.3,112.4 582.9,111.7 583.6,112.9 584.3,111.1 585.0,112.2 587.0,112.4 587.7,112.2 588.4,112.3 589.0,112.3 589.7,112.3 591.7,112.9 592.4,113.2 593.1,113.5 593.8,113.7 594.5,112.8 596.5,112.4 597.2,111.3 597.8,113.6 598.5,112.5 599.2,113.2 601.2,112.8 601.9,111.9 602.6,111.3 603.3,111.6 603.9,111.4 606.0,112.2 606.7,112.1 607.3,112.6 608.0,112.3 608.7,110.5 610.7,111.2 611.4,111.3 612.1,111.9 615.5,111.9 616.1,111.6 616.8,112.7 617.5,111.5 618.2,112.7 620.2,115.7 620.9,118.5 621.6,123.6 622.2,115.5 622.9,114.6 625.0,114.1 625.6,115.5 626.3,113.7 627.0,117.3 627.7,116.0 629.7,117.5 630.4,116.0 631.0,113.3 631.7,111.9 632.4,112.2 634.4,112.9 635.1,112.4 635.8,115.8 636.5,114.2 637.1,112.5 639.2,112.5 639.9,111.0 640.5,110.5 641.2,112.0 641.9,112.8 643.9,111.4 644.6,111.8 645.3,112.3 646.0,112.0 646.6,112.9 648.7,112.5 649.3,113.6 650.0,114.2 650.7,113.2 651.4,113.7 653.4,111.6 654.1,112.2 654.8,112.7 655.4,112.2 656.1,111.9 658.2,112.3 658.8,112.4 659.5,111.1 660.2,110.5 660.9,112.0 662.9,113.0 663.6,112.6 664.3,113.7 664.9,114.6 665.6,114.0 667.6,114.0 668.3,112.9 669.0,112.7 669.7,111.4 670.4,111.5 672.4,113.6 673.1,113.0 673.7,113.1 674.4,113.9 675.1,113.8 677.1,113.3 677.8,113.1 678.5,111.6 684.6,112.6 686.6,113.5 687.3,111.8 688.0,113.1 688.6,113.4 689.3,114.0 691.4,113.2 692.0,112.8 692.7,112.2 693.4,111.6 694.1,113.6 696.1,112.5 696.8,113.9 697.5,113.6 698.1,112.4 698.8,112.8 700.8,113.3 701.5,111.5 702.2,113.4 702.9,113.3 703.6,113.6 705.6,112.2 706.3,112.0 706.9,110.7 707.6,111.9 708.3,111.6 710.3,113.1 711.0,112.7 711.7,110.8 712.4,111.3 713.0,111.8 715.1,110.7 715.8,111.7 716.4,112.3 717.1,111.2 717.8,112.3 719.8,112.2 720.5,112.1 721.2,112.7 721.8,112.2 722.5,111.4 724.6,111.8 725.2,112.6 725.9,111.9 726.6,113.8 727.3,112.8 729.3,112.6 730.0,112.3 730.7,111.6 731.3,112.3 732.0,111.0 734.0,111.4 734.7,111.9 735.4,112.6 736.1,112.8 736.8,112.1 738.8,113.5 739.5,113.3 740.1,111.8 740.8,110.9" fill="none" stroke="none" marker-start="url(#my)" marker-mid="url(#my)" marker-end="url(#my)"/>
<polyline points="515.9,92.4 516.5,69.2 517.2,46.6 517.9,64.0 518.6,79.6 520.6,88.6 521.3,88.8 522.0,87.8 522.6,89.4 523.3,93.9 525.3,90.6 526.0,87.9 526.7,85.3 527.4,82.7 528.1,84.9 530.1,87.1 530.8,86.5 531.4,83.6 532.1,81.1 532.8,77.9 534.8,72.1 535.5,60.8 536.2,73.8 536.9,84.1 537.5,84.7 539.6,85.6 540.2,88.2 540.9,85.6 541.6,79.3 542.3,72.8 544.3,68.4 545.0,60.8 545.7,66.1 546.3,69.1 547.0,70.6 549.1,69.9 549.7,67.6 550.4,67.8 551.1,69.8 551.8,91.6 553.8,92.4 554.5,89.0 555.2,85.6 555.8,87.1 556.5,88.6 559.2,82.7 559.9,84.0 560.6,87.0 561.3,89.4 563.3,87.7 564.0,90.1 564.6,90.0 565.3,87.5 566.0,86.3 568.0,89.2 568.7,91.6 569.4,90.7 570.1,89.0 570.7,88.6 572.8,82.7 573.5,84.4 574.1,87.1 574.8,88.6 578.9,86.8 579.6,82.7 580.2,86.2 582.3,89.4 582.9,87.3 583.6,88.9 584.3,87.4 585.0,85.6 587.0,91.6 587.7,90.6 588.4,88.7 589.0,85.9 589.7,85.6 591.7,82.7 592.4,79.5 593.1,75.9 593.8,80.0 594.5,87.1 596.5,89.4 597.2,85.3 597.8,82.0 598.5,78.1 599.2,83.7 601.2,87.1 601.9,86.8 602.6,85.6 603.3,87.5 603.9,90.6 606.0,93.1 606.7,85.6 607.3,77.4 608.0,86.0 608.7,94.6 610.7,95.5 611.4,93.9 612.1,88.6 615.5,90.2 616.1,87.9 616.8,87.1 617.5,87.7 618.2,88.6 620.2,51.9 620.9,33.5 621.6,13.9 622.2,44.0 622.9,75.1 625.0,69.8 625.6,70.3 626.3,72.1 627.0,66.8 627.7,59.3 629.7,60.1 630.4,74.0 631.0,85.8 631.7,85.1 632.4,81.6 634.4,81.0 635.1,74.1 635.8,67.4 636.5,73.4 637.1,79.1 639.2,83.4 639.9,85.4 640.5,86.1 641.2,81.6 641.9,81.0 643.9,81.2 644.6,83.8 645.3,83.9 646.0,82.2 646.6,82.2 648.7,79.1 649.3,76.6 650.0,77.1 650.7,76.3 651.4,74.9 653.4,82.9 654.1,81.2 654.8,82.1 655.4,80.9 656.1,85.7 658.2,89.4 658.8,94.0 659.5,96.7 660.2,93.2 660.9,88.5 662.9,85.8 663.6,81.9 664.3,76.8 664.9,71.8 665.6,76.4 667.6,81.0 668.3,85.0 669.0,89.8 669.7,92.1 670.4,85.9 672.4,82.9 673.1,80.9 673.7,76.3 674.4,72.1 675.1,70.4 677.1,75.4 677.8,80.7 678.5,84.9 684.6,88.4 686.6,85.8 687.3,83.1 688.0,81.3 688.6,77.9 689.3,82.4 691.4,85.8 692.0,88.8 692.7,90.8 693.4,91.4 694.1,87.9 696.1,83.1 696.8,79.4 697.5,81.2 698.1,82.6 698.8,82.9 700.8,84.9 701.5,82.7 702.2,80.2 702.9,76.7 703.6,75.6 705.6,81.2 706.3,88.2 706.9,93.7 707.6,89.9 708.3,87.0 710.3,85.3 711.0,82.4 711.7,85.1 712.4,88.5 713.0,92.9 715.1,91.8 715.8,88.3 716.4,89.6 717.1,86.8 717.8,83.4 719.8,80.9 720.5,82.4 721.2,86.2 721.8,92.2 722.5,94.4 724.6,91.1 725.2,90.4 725.9,86.8 726.6,83.4 727.3,81.7 729.3,86.2 730.0,86.1 730.7,88.7 731.3,90.6 732.0,92.0 734.0,93.7 734.7,93.5 735.4,90.4 736.1,89.5 736.8,86.8 738.8,81.5 739.5,77.2 740.1,78.7 740.8,81.0" fill="none" stroke="#77AC30" stroke-width="1.5" stroke-linejoin="round" marker-start="url(#mg)" marker-mid="url(#mg)" marker-end="url(#mg)"/>
<polyline points="515.9,125.9 516.5,151.2 517.2,174.3 517.9,156.8 518.6,139.7 520.6,128.5 521.3,129.4 522.0,131.1 522.6,130.1 523.3,125.9 525.3,129.0 526.0,132.0 526.7,135.1 527.4,135.4 528.1,136.3 530.1,132.0 530.8,132.5 531.4,133.6 532.1,132.5 532.8,134.5 534.8,148.3 535.5,159.5 536.2,149.7 536.9,135.4 537.5,133.9 539.6,131.1 540.2,132.7 540.9,134.5 541.6,142.5 542.3,148.3 544.3,151.0 545.0,159.5 545.7,156.1 546.3,152.6 547.0,149.2 549.1,152.6 549.7,151.1 550.4,150.1 551.1,125.9 551.8,128.8 553.8,130.2 554.5,132.8 555.2,132.6 555.8,133.6 556.5,131.1 559.2,136.3 559.9,130.3 560.6,127.6 561.3,128.0 563.3,130.2 564.0,133.8 564.6,131.1 565.3,132.0 566.0,129.7 568.0,127.6 568.7,128.8 569.4,129.5 570.1,130.2 570.7,132.9 572.8,136.3 573.5,132.2 574.1,132.3 574.8,129.3 578.9,134.9 579.6,136.3 580.2,132.6 582.3,131.1 582.9,128.8 583.6,127.9 584.3,126.3 585.0,125.0 587.0,132.0 587.7,130.6 588.4,127.6 589.0,127.4 589.7,126.8 591.7,138.0 592.4,141.8 593.1,144.1 593.8,137.8 594.5,132.7 596.5,129.7 597.2,125.9 597.8,133.3 598.5,140.5 599.2,137.1 601.2,132.7 601.9,131.6 602.6,129.8 603.3,128.5 603.9,130.5 606.0,132.0 606.7,135.7 607.3,141.4 608.0,132.1 608.7,124.2 610.7,124.6 611.4,124.9 612.1,124.2 615.5,129.3 616.1,131.1 616.8,130.1 617.5,129.0 618.2,132.0 620.2,169.0 620.9,190.0 621.6,208.6 622.2,176.5 622.9,141.4 625.0,146.6 625.6,139.0 626.3,129.3 627.0,142.6 627.7,159.5 629.7,159.5 630.4,144.8 631.0,138.7 631.7,132.9 632.4,125.9 634.4,134.5 635.1,141.8 635.8,152.6 636.5,142.9 637.1,131.1 639.2,130.2 639.9,127.9 640.5,126.8 641.2,127.9 641.9,129.3 643.9,131.1 644.6,133.7 645.3,136.3 646.0,135.2 646.6,133.3 648.7,132.7 649.3,135.8 650.0,140.2 650.7,144.1 651.4,139.3 653.4,137.7 654.1,131.1 654.8,132.4 655.4,134.8 656.1,138.0 658.2,134.8 658.8,128.0 659.5,122.4 660.2,125.7 660.9,127.9 662.9,134.5 663.6,138.9 664.3,142.8 664.9,144.8 665.6,142.8 667.6,141.6 668.3,138.0 669.0,136.2 669.7,130.4 670.4,128.5 672.4,135.4 673.1,139.4 673.7,141.7 674.4,145.9 675.1,149.2 677.1,135.4 677.8,134.8 678.5,131.1 684.6,130.2 686.6,132.1 687.3,133.6 688.0,134.5 688.6,139.7 689.3,139.7 691.4,132.7 692.0,130.9 692.7,130.4 693.4,128.5 694.1,132.0 696.1,137.4 696.8,139.7 697.5,137.1 698.1,135.7 698.8,136.7 700.8,132.7 701.5,134.7 702.2,136.4 702.9,141.0 703.6,143.2 705.6,138.2 706.3,127.6 706.9,124.2 707.6,126.1 708.3,132.4 710.3,135.4 711.0,134.2 711.7,129.5 712.4,125.9 713.0,129.9 715.1,131.1 715.8,129.4 716.4,129.7 717.1,127.8 717.8,125.9 719.8,138.9 720.5,136.2 721.2,133.3 721.8,129.5 722.5,125.9 724.6,129.8 725.2,130.7 725.9,132.0 726.6,135.4 727.3,134.1 729.3,132.7 730.0,132.2 730.7,128.3 731.3,127.6 732.0,125.0 734.0,125.9 734.7,126.9 735.4,129.2 736.1,131.3 736.8,132.0 738.8,136.9 739.5,141.4 740.1,133.7 740.8,125.9" fill="none" stroke="#77AC30" stroke-width="1.5" stroke-linejoin="round" marker-start="url(#mg)" marker-mid="url(#mg)" marker-end="url(#mg)"/>
<polyline points="515.9,100.7 516.5,95.9 517.2,88.0 517.9,95.6 518.6,99.6 520.6,101.0 521.3,101.3 522.0,102.7 522.6,103.6 523.3,103.8 525.3,101.6 526.0,104.1 526.7,100.4 527.4,101.0 528.1,99.8 530.1,102.2 530.8,101.4 531.4,101.5 532.1,100.1 532.8,96.9 534.8,95.1 535.5,94.2 536.2,97.3 536.9,101.5 537.5,101.0 539.6,101.0 540.2,101.7 540.9,100.8 541.6,94.6 542.3,92.7 544.3,93.6 545.0,91.8 545.7,93.8 546.3,92.6 547.0,95.3 549.1,94.8 549.7,94.9 550.4,93.6 551.1,93.2 551.8,103.0 553.8,102.7 554.5,102.2 555.2,101.0 555.8,101.6 556.5,102.3 559.2,101.0 559.9,100.6 560.6,101.9 561.3,101.9 563.3,101.9 564.0,103.6 564.6,102.3 565.3,102.8 566.0,101.9 568.0,102.4 568.7,104.7 569.4,102.6 570.1,102.1 570.7,101.9 572.8,100.6 573.5,100.9 574.1,102.2 574.8,102.1 578.9,101.7 579.6,100.2 580.2,102.1 582.3,101.8 582.9,101.6 583.6,102.1 584.3,101.9 585.0,100.8 587.0,104.2 587.7,102.3 588.4,101.8 589.0,100.9 589.7,100.5 591.7,100.4 592.4,98.9 593.1,97.3 593.8,98.7 594.5,101.1 596.5,103.3 597.2,100.4 597.8,98.6 598.5,97.8 599.2,99.9 601.2,102.6 601.9,100.5 602.6,101.2 603.3,103.8 603.9,102.4 606.0,104.4 606.7,102.0 607.3,99.3 608.0,100.0 608.7,104.1 610.7,103.8 611.4,102.3 612.1,101.0 615.5,102.5 616.1,102.0 616.8,102.6 617.5,102.3 618.2,99.9 620.2,94.4 620.9,92.1 621.6,81.3 622.2,95.4 622.9,97.7 625.0,97.0 625.6,97.1 626.3,96.7 627.0,94.2 627.7,93.2 629.7,93.5 630.4,94.7 631.0,101.8 631.7,100.1 632.4,99.7 634.4,98.7 635.1,98.2 635.8,95.3 636.5,97.0 637.1,99.2 639.2,101.9 639.9,101.1 640.5,100.1 641.2,99.4 641.9,99.8 643.9,99.5 644.6,99.5 645.3,102.6 646.0,99.9 646.6,99.1 648.7,98.0 649.3,96.4 650.0,96.8 650.7,97.3 651.4,97.3 653.4,98.8 654.1,99.9 654.8,99.6 655.4,98.8 656.1,99.2 658.2,102.5 658.8,103.9 659.5,103.8 660.2,102.5 660.9,102.1 662.9,99.7 663.6,100.3 664.3,97.9 664.9,96.6 665.6,97.0 667.6,98.4 668.3,102.0 669.0,103.1 669.7,102.6 670.4,101.7 672.4,101.3 673.1,98.2 673.7,97.2 674.4,95.8 675.1,96.2 677.1,96.4 677.8,99.3 678.5,99.7 684.6,102.4 686.6,101.7 687.3,99.9 688.0,99.9 688.6,98.0 689.3,99.5 691.4,101.8 692.0,102.0 692.7,103.0 693.4,102.1 694.1,102.2 696.1,100.4 696.8,97.9 697.5,97.4 698.1,98.1 698.8,100.0 700.8,100.3 701.5,98.6 702.2,99.0 702.9,98.7 703.6,97.6 705.6,99.0 706.3,102.5 706.9,104.8 707.6,103.7 708.3,100.9 710.3,101.4 711.0,100.2 711.7,100.6 712.4,101.5 713.0,103.6 715.1,102.6 715.8,102.9 716.4,102.5 717.1,102.2 717.8,99.2 719.8,99.5 720.5,100.5 721.2,101.5 721.8,103.3 722.5,103.2 724.6,104.4 725.2,103.4 725.9,101.7 726.6,98.1 727.3,99.0 729.3,101.0 730.0,100.6 730.7,100.3 731.3,102.9 732.0,103.5 734.0,102.7 734.7,103.2 735.4,102.2 736.1,102.7 736.8,99.6 738.8,98.0 739.5,97.7 740.1,97.9 740.8,100.9" fill="none" stroke="#A2142F" stroke-width="1.4" stroke-linejoin="round" marker-start="url(#mr)" marker-mid="url(#mr)" marker-end="url(#mr)"/>
<polyline points="515.9,115.3 516.5,123.9 517.2,121.3 517.9,123.9 518.6,120.3 520.6,117.9 521.3,115.7 522.0,117.2 522.6,116.4 523.3,115.7 525.3,116.2 526.0,119.2 526.7,116.7 527.4,117.9 528.1,117.2 530.1,115.2 530.8,117.1 531.4,119.2 532.1,118.1 532.8,119.6 534.8,123.2 535.5,125.1 536.2,125.0 536.9,118.4 537.5,119.0 539.6,116.5 540.2,117.3 540.9,118.4 541.6,125.7 542.3,127.3 544.3,128.3 545.0,128.6 545.7,125.8 546.3,125.7 547.0,124.7 549.1,124.0 549.7,125.9 550.4,127.3 551.1,125.5 551.8,115.8 553.8,116.4 554.5,117.4 555.2,117.1 555.8,117.8 556.5,117.1 559.2,119.0 559.9,116.8 560.6,113.3 561.3,115.7 563.3,116.6 564.0,116.8 564.6,116.1 565.3,117.9 566.0,116.3 568.0,114.6 568.7,115.5 569.4,115.9 570.1,114.9 570.7,117.9 572.8,118.0 573.5,117.7 574.1,115.4 574.8,118.3 578.9,118.4 579.6,118.8 580.2,116.6 582.3,116.0 582.9,114.5 583.6,116.9 584.3,114.2 585.0,115.1 587.0,117.2 587.7,115.8 588.4,116.4 589.0,117.3 589.7,116.0 591.7,120.2 592.4,121.0 593.1,120.5 593.8,118.8 594.5,115.8 596.5,116.3 597.2,116.8 597.8,118.1 598.5,120.4 599.2,119.9 601.2,116.9 601.9,117.4 602.6,118.1 603.3,115.2 603.9,116.5 606.0,116.7 606.7,118.2 607.3,119.0 608.0,117.0 608.7,113.5 610.7,114.3 611.4,114.3 612.1,114.3 615.5,117.2 616.1,116.6 616.8,116.5 617.5,115.8 618.2,119.9 620.2,123.0 620.9,127.4 621.6,141.3 622.2,126.2 622.9,121.9 625.0,121.8 625.6,122.4 626.3,121.6 627.0,127.4 627.7,125.4 629.7,126.5 630.4,125.7 631.0,118.4 631.7,114.7 632.4,116.5 634.4,118.2 635.1,121.5 635.8,122.6 636.5,121.9 637.1,117.6 639.2,116.3 639.9,116.5 640.5,116.1 641.2,115.9 641.9,118.0 643.9,118.0 644.6,118.0 645.3,118.2 646.0,118.2 646.6,119.2 648.7,117.8 649.3,117.6 650.0,119.3 650.7,120.9 651.4,120.6 653.4,118.1 654.1,117.5 654.8,118.3 655.4,118.8 656.1,117.4 658.2,117.6 658.8,114.4 659.5,115.2 660.2,113.8 660.9,116.2 662.9,117.9 663.6,117.0 664.3,120.0 664.9,121.8 665.6,120.9 667.6,120.0 668.3,118.0 669.0,118.7 669.7,118.2 670.4,116.4 672.4,118.0 673.1,119.4 673.7,119.2 674.4,121.6 675.1,121.5 677.1,119.9 677.8,116.9 678.5,114.7 684.6,115.7 686.6,116.7 687.3,117.3 688.0,116.3 688.6,120.4 689.3,119.5 691.4,117.0 692.0,115.9 692.7,116.7 693.4,115.6 694.1,117.3 696.1,118.6 696.8,119.6 697.5,119.9 698.1,118.4 698.8,117.5 700.8,118.4 701.5,118.1 702.2,118.0 702.9,121.1 703.6,120.4 705.6,119.9 706.3,114.6 706.9,112.4 707.6,113.1 708.3,117.1 710.3,117.2 711.0,117.4 711.7,116.0 712.4,113.6 713.0,117.3 715.1,115.4 715.8,116.1 716.4,114.6 717.1,115.2 717.8,116.1 719.8,118.4 720.5,117.7 721.2,117.3 721.8,115.6 722.5,115.6 724.6,118.1 725.2,115.6 725.9,116.4 726.6,117.8 727.3,117.6 729.3,116.2 730.0,117.3 730.7,116.5 731.3,115.5 732.0,113.5 734.0,116.1 734.7,114.0 735.4,116.5 736.1,117.7 736.8,115.9 738.8,118.8 739.5,121.0 740.1,117.9 740.8,114.2" fill="none" stroke="#A2142F" stroke-width="1.4" stroke-linejoin="round" marker-start="url(#mr)" marker-mid="url(#mr)" marker-end="url(#mr)"/>
<line x1="515.9" y1="109.5" x2="740.8" y2="109.5" stroke="#000" stroke-width="1.2" stroke-dasharray="4.8 1.9 0.8 2.4"/>
</g>
<rect x="514.5" y="4.3" width="227.0" height="227.0" fill="none" stroke="#4a4a4a" stroke-width="1"/>
<path d="M534.4,231.3v-3.3M534.4,4.3v3.3M555.4,231.3v-3.3M555.4,4.3v3.3M575.7,231.3v-3.3M575.7,4.3v3.3M596.7,231.3v-3.3M596.7,4.3v3.3M617.0,231.3v-3.3M617.0,4.3v3.3M638.0,231.3v-3.3M638.0,4.3v3.3M659.0,231.3v-3.3M659.0,4.3v3.3M679.4,231.3v-3.3M679.4,4.3v3.3M700.4,231.3v-3.3M700.4,4.3v3.3M720.7,231.3v-3.3M720.7,4.3v3.3M514.5,213.8h3.0M741.5,213.8h-3.0M514.5,178.9h3.0M741.5,178.9h-3.0M514.5,144.0h3.0M741.5,144.0h-3.0M514.5,109.1h3.0M741.5,109.1h-3.0M514.5,74.1h3.0M741.5,74.1h-3.0M514.5,39.2h3.0M741.5,39.2h-3.0M514.5,4.3h3.0M741.5,4.3h-3.0" stroke="#666" stroke-width="1" fill="none"/>
<text class="t" style="font-size:9.6px" text-anchor="end" transform="translate(512.0,218.3) scale(0.69,1)">-0.6</text>
<text class="t" style="font-size:9.6px" text-anchor="end" transform="translate(512.0,183.4) scale(0.69,1)">-0.4</text>
<text class="t" style="font-size:9.6px" text-anchor="end" transform="translate(512.0,148.5) scale(0.69,1)">-0.2</text>
<text class="t" style="font-size:9.6px" text-anchor="end" transform="translate(512.0,113.6) scale(0.69,1)">0</text>
<text class="t" style="font-size:9.6px" text-anchor="end" transform="translate(512.0,78.6) scale(0.69,1)">0.2</text>
<text class="t" style="font-size:9.6px" text-anchor="end" transform="translate(512.0,43.7) scale(0.69,1)">0.4</text>
<text class="t" style="font-size:9.6px" text-anchor="end" transform="translate(512.0,8.8) scale(0.69,1)">0.6</text>
<text class="t" text-anchor="middle" transform="translate(514.5,245.9) scale(0.69,1)">Feb</text>
<text class="t" text-anchor="middle" transform="translate(534.2,245.9) scale(0.69,1)">Mar</text>
<text class="t" text-anchor="middle" transform="translate(555.2,245.9) scale(0.69,1)">Apr</text>
<text class="t" text-anchor="middle" transform="translate(575.5,245.9) scale(0.69,1)">May</text>
<text class="t" text-anchor="middle" transform="translate(596.5,245.9) scale(0.69,1)">Jun</text>
<text class="t" text-anchor="middle" transform="translate(616.8,245.9) scale(0.69,1)">Jul</text>
<text class="t" text-anchor="middle" transform="translate(637.8,245.9) scale(0.69,1)">Aug</text>
<text class="t" text-anchor="middle" transform="translate(658.8,245.9) scale(0.69,1)">Sep</text>
<text class="t" text-anchor="middle" transform="translate(679.2,245.9) scale(0.69,1)">Oct</text>
<text class="t" text-anchor="middle" transform="translate(700.2,245.9) scale(0.69,1)">Nov</text>
<text class="t" text-anchor="middle" transform="translate(720.5,245.9) scale(0.69,1)">Dec</text>
<text class="t" text-anchor="middle" transform="translate(741.5,245.9) scale(0.69,1)">Jan</text>
<text class="t" text-anchor="middle" transform="translate(728.9,257.9) scale(0.69,1)">2020</text>
<text class="s ti" font-size="14.6" x="659.9" y="26.1" textLength="22.7" lengthAdjust="spacingAndGlyphs">DAX</text>
<rect x="683.8" y="22.1" width="6.1" height="0.9" fill="#111"/>
<path d="M695.1,18.1L700.9,22.4L695.1,26.7" fill="none" stroke="#111" stroke-width="0.9"/>
<text class="s ti" font-size="14.6" x="701.9" y="26.1" textLength="19.0" lengthAdjust="spacingAndGlyphs">SSE</text>
<rect x="647.6" y="164.2" width="88.9" height="59.4" fill="#fff" stroke="#4a4a4a" stroke-width="0.9"/>
<path d="M657.8,171.2l1.4,-2.3l1.4,2.3l-1.4,2.3z" fill="#0072BD"/>
<text class="s" style="stroke:#000;stroke-width:0.15" font-size="9" x="670.2" y="173.6" textLength="55.5" lengthAdjust="spacingAndGlyphs">VaR(<tspan font-style="italic">α</tspan> = 0.01, 0.99)</text>
<ellipse cx="659.2" cy="182.7" rx="1.1" ry="1.2" fill="#EDB120"/>
<text class="s" style="stroke:#000;stroke-width:0.15" font-size="9" x="670.2" y="185.1" textLength="55.5" lengthAdjust="spacingAndGlyphs">VaR(<tspan font-style="italic">α</tspan> = 0.05, 0.95)</text>
<line x1="649.1" y1="194.2" x2="669.0" y2="194.2" stroke="#77AC30" stroke-width="1.3"/>
<path d="M657.6,194.2l1.6,-2.4l1.6,2.4l-1.6,2.4z" fill="#77AC30"/>
<text class="s" style="stroke:#000;stroke-width:0.15" font-size="9" x="670.2" y="196.6" textLength="63.4" lengthAdjust="spacingAndGlyphs">CoVaR(<tspan font-style="italic">α</tspan> = 0.01, 0.99)</text>
<line x1="649.1" y1="205.7" x2="669.0" y2="205.7" stroke="#A2142F" stroke-width="1.3"/>
<path d="M657.9,205.7l1.3,-1.8l1.3,1.8l-1.3,1.8z" fill="#A2142F"/>
<text class="s" style="stroke:#000;stroke-width:0.15" font-size="9" x="670.2" y="208.1" textLength="63.4" lengthAdjust="spacingAndGlyphs">CoVaR(<tspan font-style="italic">α</tspan> = 0.05, 0.95)</text>
<line x1="649.1" y1="217.2" x2="669.0" y2="217.2" stroke="#262626" stroke-width="1.1" stroke-dasharray="5.7 2 0.8 2.2"/>
<text class="s" style="stroke:#000;stroke-width:0.15" font-size="9" x="670.2" y="219.6" textLength="48.0" lengthAdjust="spacingAndGlyphs">CoVaR(<tspan font-style="italic">α</tspan> = 0.50)</text>
<clipPath id="c3"><rect x="264.2" y="263.5" width="226.7" height="227.0"/></clipPath>
<g clip-path="url(#c3)">
<polyline points="265.6,349.5 266.2,345.9 266.9,345.2 267.6,345.2 268.3,347.9 270.3,349.4 271.0,349.9 271.6,350.0 272.3,350.4 273.0,350.8 275.0,350.3 275.7,350.0 276.4,349.3 277.1,348.2 277.7,348.9 279.8,349.0 280.4,348.8 281.1,348.5 281.8,347.1 282.5,347.7 284.5,345.6 285.2,345.2 285.9,345.6 286.5,347.8 287.2,349.9 289.2,349.7 289.9,349.3 290.6,348.7 291.3,344.6 291.9,344.3 294.0,344.7 294.7,344.1 295.3,346.0 296.0,343.7 296.7,346.5 298.7,345.2 299.4,345.8 300.1,344.0 300.7,344.7 301.4,350.3 303.4,350.4 304.1,350.4 304.8,349.7 305.5,350.2 306.2,349.7 308.9,348.5 309.5,348.4 310.2,349.6 310.9,349.4 312.9,349.8 313.6,350.2 314.3,349.8 315.0,349.2 315.6,349.6 317.7,350.1 318.3,350.5 319.0,350.3 319.7,350.4 320.4,349.2 322.4,348.9 323.1,348.7 323.8,349.9 324.4,349.6 328.5,349.2 329.2,348.9 329.8,348.4 331.9,349.7 332.5,348.9 333.2,349.4 333.9,349.9 334.6,349.6 336.6,350.1 337.3,350.3 338.0,349.8 338.6,349.5 339.3,349.9 341.3,348.6 342.0,348.8 342.7,347.0 343.4,348.3 344.1,349.7 346.1,349.9 346.8,349.0 347.4,349.0 348.1,348.6 348.8,349.2 350.8,350.3 351.5,349.9 352.2,348.6 352.8,350.1 353.5,350.0 355.6,351.2 356.2,349.0 356.9,348.0 357.6,349.3 358.3,350.7 360.3,350.3 361.0,350.9 361.6,350.0 365.0,350.5 365.7,349.5 366.4,349.7 367.1,349.3 367.7,348.7 369.8,344.8 370.4,344.9 371.1,330.6 371.8,345.2 372.5,347.3 374.5,347.5 375.2,347.2 375.9,347.7 376.5,345.4 377.2,343.4 379.2,344.4 379.9,345.5 380.6,349.3 381.3,349.2 381.9,347.9 384.0,348.3 384.7,346.9 385.3,345.3 386.0,346.0 386.7,347.8 388.7,349.1 389.4,349.8 390.1,349.4 390.7,349.4 391.4,347.8 393.5,348.5 394.1,348.5 394.8,347.9 395.5,347.9 396.2,348.8 398.2,347.3 398.9,346.7 399.5,347.5 400.2,347.5 400.9,347.1 402.9,349.0 403.6,347.6 404.3,349.4 405.0,348.8 405.6,349.3 407.7,350.2 408.3,350.9 409.0,351.0 409.7,351.0 410.4,349.4 412.4,350.2 413.1,348.3 413.8,347.5 414.4,346.3 415.1,347.0 417.1,348.5 417.8,349.4 418.5,349.7 419.2,350.2 419.8,349.6 421.9,347.7 422.6,347.0 423.2,347.8 423.9,346.1 424.6,344.8 426.6,346.5 427.3,347.9 428.0,349.1 434.1,349.9 436.1,349.3 436.8,348.9 437.4,347.8 438.1,347.9 438.8,348.6 440.8,349.8 441.5,349.9 442.2,350.7 442.9,350.5 443.5,349.2 445.6,348.5 446.2,347.7 446.9,348.0 447.6,348.4 448.3,348.7 450.3,349.0 451.0,348.2 451.7,348.4 452.3,346.6 453.0,347.1 455.0,348.6 455.7,349.9 456.4,351.0 457.1,350.1 457.7,349.9 459.8,348.6 460.4,349.0 461.1,350.1 461.8,350.2 462.5,351.6 464.5,350.5 465.2,349.5 465.9,349.7 466.5,350.0 467.2,349.0 469.2,347.4 469.9,348.4 470.6,349.4 471.3,350.1 472.0,349.9 474.0,349.9 474.7,350.1 475.3,349.3 476.0,348.5 476.7,348.8 478.7,349.7 479.4,349.4 480.1,350.3 480.7,350.3 481.4,350.6 483.5,349.9 484.1,351.3 484.8,350.4 485.5,350.1 486.2,349.2 488.2,347.8 488.9,347.7 489.5,348.0 490.2,348.8" fill="none" stroke="none" marker-start="url(#mb)" marker-mid="url(#mb)" marker-end="url(#mb)"/>
<polyline points="265.6,358.5 266.2,361.8 266.9,361.9 267.6,363.0 268.3,360.4 270.3,358.2 271.0,357.9 271.6,358.6 272.3,358.3 273.0,358.4 275.0,358.5 275.7,357.9 276.4,360.1 277.1,359.4 277.7,359.2 279.8,358.9 280.4,359.1 281.1,358.9 281.8,358.8 282.5,359.4 284.5,362.6 285.2,362.9 285.9,362.4 286.5,359.9 287.2,358.8 289.2,358.2 289.9,358.3 290.6,359.5 291.3,362.7 291.9,363.2 294.0,363.7 294.7,363.2 295.3,363.3 296.0,364.2 296.7,363.2 298.7,363.5 299.4,363.5 300.1,363.9 300.7,363.9 301.4,358.7 303.4,358.7 304.1,358.7 304.8,358.4 305.5,358.4 306.2,358.7 308.9,359.2 309.5,358.7 310.2,357.6 310.9,358.0 312.9,358.0 313.6,358.0 314.3,358.5 315.0,359.2 315.6,358.5 317.7,358.5 318.3,358.5 319.0,357.5 319.7,358.2 320.4,359.5 322.4,359.0 323.1,358.2 323.8,358.7 324.4,358.6 328.5,359.2 329.2,359.2 329.8,358.5 331.9,357.9 332.5,357.5 333.2,357.2 333.9,356.9 334.6,357.1 336.6,359.1 337.3,358.3 338.0,357.7 338.6,357.9 339.3,357.5 341.3,359.7 342.0,360.9 342.7,360.1 343.4,359.5 344.1,358.7 346.1,357.7 346.8,357.2 347.4,358.7 348.1,361.1 348.8,359.9 350.8,359.0 351.5,359.0 352.2,358.1 352.8,357.5 353.5,358.5 355.6,359.2 356.2,358.5 356.9,360.3 357.6,359.2 358.3,357.3 360.3,357.2 361.0,357.7 361.6,357.0 365.0,358.2 365.7,358.8 366.4,358.1 367.1,357.8 367.7,359.8 369.8,362.4 370.4,364.1 371.1,378.2 371.8,362.9 372.5,360.6 374.5,361.2 375.2,361.2 375.9,360.9 376.5,363.3 377.2,362.7 379.2,363.0 379.9,363.4 380.6,360.2 381.3,358.5 381.9,357.5 384.0,358.4 384.7,360.4 385.3,361.4 386.0,360.0 386.7,358.6 388.7,358.9 389.4,358.4 390.1,358.3 390.7,357.1 391.4,358.5 393.5,357.9 394.1,358.7 394.8,358.6 395.5,358.8 396.2,358.9 398.2,358.9 398.9,359.3 399.5,360.1 400.2,361.0 400.9,360.1 402.9,358.9 403.6,359.4 404.3,358.6 405.0,359.6 405.6,359.5 407.7,358.7 408.3,357.9 409.0,357.0 409.7,358.1 410.4,357.4 412.4,359.3 413.1,359.7 413.8,360.6 414.4,362.2 415.1,361.1 417.1,360.3 417.8,359.1 418.5,359.2 419.2,358.3 419.8,358.8 421.9,358.5 422.6,359.2 423.2,360.5 423.9,361.4 424.6,362.3 426.6,359.2 427.3,357.8 428.0,358.2 434.1,357.7 436.1,358.4 436.8,359.4 437.4,358.6 438.1,360.5 438.8,360.0 440.8,358.8 441.5,358.0 442.2,358.1 442.9,357.9 443.5,359.0 445.6,360.2 446.2,360.0 446.9,360.0 447.6,360.0 448.3,360.0 450.3,359.1 451.0,360.0 451.7,360.2 452.3,361.1 453.0,360.5 455.0,359.5 455.7,357.0 456.4,358.1 457.1,357.9 457.7,358.2 459.8,359.3 460.4,359.1 461.1,357.4 461.8,357.7 462.5,358.6 464.5,358.9 465.2,358.0 465.9,357.9 466.5,358.4 467.2,358.2 469.2,359.3 469.9,359.2 470.6,359.1 471.3,357.8 472.0,357.3 474.0,358.9 474.7,358.5 475.3,358.5 476.0,359.4 476.7,360.0 478.7,358.9 479.4,358.2 480.1,357.2 480.7,358.7 481.4,356.2 483.5,357.9 484.1,357.2 484.8,357.5 485.5,358.0 486.2,358.6 488.2,360.1 488.9,359.8 489.5,359.3 490.2,358.7" fill="none" stroke="none" marker-start="url(#mb)" marker-mid="url(#mb)" marker-end="url(#mb)"/>
<polyline points="265.6,350.6 266.2,348.4 266.9,349.8 267.6,349.1 268.3,349.8 270.3,350.9 271.0,351.1 271.6,351.7 272.3,352.5 273.0,352.4 275.0,353.0 275.7,352.4 276.4,351.3 277.1,351.5 277.7,351.4 279.8,351.6 280.4,350.6 281.1,350.5 281.8,350.8 282.5,349.8 284.5,349.9 285.2,348.5 285.9,349.4 286.5,351.6 287.2,351.4 289.2,352.0 289.9,351.6 290.6,350.6 291.3,348.6 291.9,347.7 294.0,348.6 294.7,348.4 295.3,349.5 296.0,347.1 296.7,347.5 298.7,348.4 299.4,348.8 300.1,347.6 300.7,348.2 301.4,351.4 303.4,352.0 304.1,351.7 304.8,351.2 305.5,351.8 306.2,351.8 308.9,351.9 309.5,351.4 310.2,352.2 310.9,351.9 312.9,352.2 313.6,351.9 314.3,351.7 315.0,352.3 315.6,351.9 317.7,352.3 318.3,351.8 319.0,351.2 319.7,351.4 320.4,351.8 322.4,350.5 323.1,351.9 323.8,350.9 324.4,352.0 328.5,352.8 329.2,349.9 329.8,350.7 331.9,352.2 332.5,351.6 333.2,351.8 333.9,351.6 334.6,352.2 336.6,352.3 337.3,351.8 338.0,351.7 338.6,350.9 339.3,351.3 341.3,349.9 342.0,350.9 342.7,350.1 343.4,351.6 344.1,352.1 346.1,351.2 346.8,351.8 347.4,350.7 348.1,350.6 348.8,351.6 350.8,351.7 351.5,351.7 352.2,351.7 352.8,351.3 353.5,351.7 355.6,352.4 356.2,351.8 356.9,350.5 357.6,351.5 358.3,351.9 360.3,351.3 361.0,352.0 361.6,351.9 365.0,352.0 365.7,352.1 366.4,352.0 367.1,352.1 367.7,351.3 369.8,348.8 370.4,347.3 371.1,343.1 371.8,348.7 372.5,350.7 374.5,349.4 375.2,350.0 375.9,349.4 376.5,348.2 377.2,347.3 379.2,348.4 379.9,347.9 380.6,350.0 381.3,351.8 381.9,350.4 384.0,349.9 384.7,349.7 385.3,348.4 386.0,349.2 386.7,350.8 388.7,350.9 389.4,351.7 390.1,351.7 390.7,351.2 391.4,350.9 393.5,350.8 394.1,350.9 394.8,351.8 395.5,350.0 396.2,350.3 398.2,350.2 398.9,350.4 399.5,350.3 400.2,349.9 400.9,350.0 402.9,351.6 403.6,350.5 404.3,349.5 405.0,351.7 405.6,350.9 407.7,351.7 408.3,352.5 409.0,351.8 409.7,352.9 410.4,351.7 412.4,350.7 413.1,351.0 413.8,350.4 414.4,349.7 415.1,350.4 417.1,350.0 417.8,351.7 418.5,351.5 419.2,352.7 419.8,351.2 421.9,351.1 422.6,351.9 423.2,350.2 423.9,350.2 424.6,349.7 426.6,349.3 427.3,351.2 428.0,351.8 434.1,351.0 436.1,351.3 436.8,350.3 437.4,350.6 438.1,350.9 438.8,351.0 440.8,350.8 441.5,351.3 442.2,352.0 442.9,352.0 443.5,351.7 445.6,351.3 446.2,349.8 446.9,350.8 447.6,351.5 448.3,351.3 450.3,350.9 451.0,350.7 451.7,350.7 452.3,350.6 453.0,350.2 455.0,351.6 455.7,352.3 456.4,351.9 457.1,352.2 457.7,351.4 459.8,350.7 460.4,350.8 461.1,351.3 461.8,350.8 462.5,351.9 464.5,352.3 465.2,351.5 465.9,351.6 466.5,351.9 467.2,351.1 469.2,350.9 469.9,351.9 470.6,351.6 471.3,352.3 472.0,352.6 474.0,352.9 474.7,352.1 475.3,351.6 476.0,351.1 476.7,351.5 478.7,351.1 479.4,352.1 480.1,351.9 480.7,351.4 481.4,352.5 483.5,352.6 484.1,351.8 484.8,352.2 485.5,352.0 486.2,351.4 488.2,350.4 488.9,351.4 489.5,350.9 490.2,351.2" fill="none" stroke="none" marker-start="url(#my)" marker-mid="url(#my)" marker-end="url(#my)"/>
<polyline points="265.6,357.0 266.2,359.7 266.9,358.1 267.6,359.5 268.3,358.1 270.3,356.5 271.0,356.3 271.6,357.0 272.3,356.4 273.0,355.4 275.0,356.3 275.7,357.1 276.4,357.1 277.1,357.6 277.7,357.0 279.8,356.4 280.4,357.2 281.1,357.0 281.8,356.3 282.5,357.4 284.5,358.5 285.2,360.3 285.9,359.1 286.5,357.6 287.2,356.0 289.2,356.9 289.9,357.1 290.6,357.4 291.3,360.1 291.9,360.1 294.0,360.6 294.7,359.5 295.3,360.0 296.0,360.0 296.7,360.2 298.7,359.6 299.4,361.0 300.1,360.4 300.7,360.4 301.4,356.5 303.4,357.6 304.1,356.4 304.8,357.0 305.5,357.1 306.2,356.9 308.9,357.2 309.5,356.4 310.2,356.9 310.9,356.8 312.9,356.4 313.6,356.8 314.3,356.9 315.0,357.0 315.6,356.9 317.7,356.3 318.3,355.9 319.0,357.0 319.7,355.9 320.4,356.5 322.4,357.3 323.1,356.5 323.8,357.4 324.4,357.4 328.5,357.6 329.2,357.3 329.8,357.0 331.9,356.9 332.5,356.4 333.2,357.3 333.9,355.9 334.6,356.7 336.6,356.9 337.3,356.8 338.0,356.8 338.6,356.9 339.3,356.8 341.3,357.3 342.0,357.6 342.7,357.7 343.4,357.9 344.1,357.2 346.1,356.9 346.8,356.0 347.4,357.8 348.1,357.0 348.8,357.5 350.8,357.2 351.5,356.5 352.2,356.0 352.8,356.3 353.5,356.1 355.6,356.7 356.2,356.6 356.9,357.0 357.6,356.8 358.3,355.4 360.3,356.0 361.0,356.0 361.6,356.5 365.0,356.5 365.7,356.3 366.4,357.1 367.1,356.2 367.7,357.1 369.8,359.5 370.4,361.6 371.1,365.6 371.8,359.3 372.5,358.6 374.5,358.2 375.2,359.3 375.9,357.9 376.5,360.7 377.2,359.7 379.2,360.9 379.9,359.7 380.6,357.6 381.3,356.5 381.9,356.7 384.0,357.3 384.7,356.9 385.3,359.6 386.0,358.3 386.7,356.9 388.7,357.0 389.4,355.8 390.1,355.4 390.7,356.6 391.4,357.2 393.5,356.1 394.1,356.4 394.8,356.8 395.5,356.6 396.2,357.3 398.2,357.0 398.9,357.8 399.5,358.3 400.2,357.5 400.9,357.9 402.9,356.3 403.6,356.7 404.3,357.1 405.0,356.7 405.6,356.5 407.7,356.8 408.3,356.9 409.0,355.9 409.7,355.4 410.4,356.6 412.4,357.4 413.1,357.1 413.8,357.9 414.4,358.6 415.1,358.2 417.1,358.1 417.8,357.3 418.5,357.1 419.2,356.1 419.8,356.2 421.9,357.8 422.6,357.4 423.2,357.5 423.9,358.1 424.6,358.0 426.6,357.6 427.3,357.5 428.0,356.3 434.1,357.1 436.1,357.7 436.8,356.5 437.4,357.4 438.1,357.7 438.8,358.2 440.8,357.5 441.5,357.2 442.2,356.7 442.9,356.3 443.5,357.8 445.6,357.0 446.2,358.1 446.9,357.8 447.6,356.9 448.3,357.2 450.3,357.6 451.0,356.2 451.7,357.7 452.3,357.6 453.0,357.8 455.0,356.7 455.7,356.6 456.4,355.6 457.1,356.5 457.7,356.2 459.8,357.4 460.4,357.1 461.1,355.6 461.8,356.0 462.5,356.4 464.5,355.6 465.2,356.3 465.9,356.8 466.5,355.9 467.2,356.8 469.2,356.8 469.9,356.7 470.6,357.2 471.3,356.8 472.0,356.1 474.0,356.5 474.7,357.1 475.3,356.5 476.0,358.0 476.7,357.2 478.7,357.0 479.4,356.9 480.1,356.3 480.7,356.8 481.4,355.8 483.5,356.2 484.1,356.5 484.8,357.1 485.5,357.2 486.2,356.7 488.2,357.7 488.9,357.6 489.5,356.5 490.2,355.7" fill="none" stroke="none" marker-start="url(#my)" marker-mid="url(#my)" marker-end="url(#my)"/>
<polyline points="265.6,340.4 266.2,321.0 266.9,302.1 267.6,316.6 268.3,329.7 270.3,337.2 271.0,337.4 271.6,336.5 272.3,337.9 273.0,341.6 275.0,338.8 275.7,336.6 276.4,334.5 277.1,332.2 277.7,334.1 279.8,335.9 280.4,335.4 281.1,333.0 281.8,331.0 282.5,328.3 284.5,323.5 285.2,314.0 285.9,324.8 286.5,333.4 287.2,334.0 289.2,334.7 289.9,336.9 290.6,334.7 291.3,329.4 291.9,324.0 294.0,320.3 294.7,314.0 295.3,318.4 296.0,321.0 296.7,322.2 298.7,321.6 299.4,319.7 300.1,319.8 300.7,321.5 301.4,339.7 303.4,340.4 304.1,337.5 304.8,334.7 305.5,335.9 306.2,337.2 308.9,332.2 309.5,333.4 310.2,335.9 310.9,337.9 312.9,336.5 313.6,338.4 314.3,338.4 315.0,336.3 315.6,335.3 317.7,337.7 318.3,339.7 319.0,339.0 319.7,337.5 320.4,337.2 322.4,332.2 323.1,333.7 323.8,336.0 324.4,337.2 328.5,335.7 329.2,332.2 329.8,335.2 331.9,337.9 332.5,336.1 333.2,337.4 333.9,336.2 334.6,334.7 336.6,339.7 337.3,338.9 338.0,337.3 338.6,334.9 339.3,334.7 341.3,332.3 342.0,329.6 342.7,326.6 343.4,330.0 344.1,335.9 346.1,337.9 346.8,334.4 347.4,331.7 348.1,328.5 348.8,333.1 350.8,335.9 351.5,335.7 352.2,334.7 352.8,336.3 353.5,338.9 355.6,340.9 356.2,334.7 356.9,327.8 357.6,335.0 358.3,342.2 360.3,343.0 361.0,341.6 361.6,337.2 365.0,338.5 365.7,336.6 366.4,335.9 367.1,336.5 367.7,337.2 369.8,306.5 370.4,291.2 371.1,274.9 371.8,300.0 372.5,326.0 374.5,321.5 375.2,321.9 375.9,323.5 376.5,319.0 377.2,312.7 379.2,313.4 379.9,325.0 380.6,334.9 381.3,334.3 381.9,331.4 384.0,330.9 384.7,325.1 385.3,319.5 386.0,324.5 386.7,329.3 388.7,332.8 389.4,334.5 390.1,335.1 390.7,331.4 391.4,330.9 393.5,331.0 394.1,333.2 394.8,333.3 395.5,331.8 396.2,331.9 398.2,329.3 398.9,327.2 399.5,327.6 400.2,326.9 400.9,325.8 402.9,332.5 403.6,331.0 404.3,331.8 405.0,330.8 405.6,334.7 407.7,337.9 408.3,341.7 409.0,343.9 409.7,341.0 410.4,337.1 412.4,334.9 413.1,331.6 413.8,327.4 414.4,323.2 415.1,327.0 417.1,330.9 417.8,334.2 418.5,338.2 419.2,340.1 419.8,334.9 421.9,332.5 422.6,330.8 423.2,327.0 423.9,323.4 424.6,322.0 426.6,326.2 427.3,330.6 428.0,334.1 434.1,337.1 436.1,334.9 436.8,332.6 437.4,331.1 438.1,328.3 438.8,332.1 440.8,334.9 441.5,337.4 442.2,339.0 442.9,339.6 443.5,336.6 445.6,332.6 446.2,329.5 446.9,331.0 447.6,332.2 448.3,332.4 450.3,334.1 451.0,332.3 451.7,330.2 452.3,327.3 453.0,326.4 455.0,331.1 455.7,336.9 456.4,341.4 457.1,338.3 457.7,335.9 459.8,334.5 460.4,332.0 461.1,334.3 461.8,337.2 462.5,340.8 464.5,339.9 465.2,337.0 465.9,338.0 466.5,335.7 467.2,332.8 469.2,330.8 469.9,332.0 470.6,335.2 471.3,340.2 472.0,342.1 474.0,339.3 474.7,338.7 475.3,335.7 476.0,332.9 476.7,331.4 478.7,335.2 479.4,335.1 480.1,337.3 480.7,338.9 481.4,340.0 483.5,341.4 484.1,341.3 484.8,338.7 485.5,338.0 486.2,335.7 488.2,331.2 488.9,327.6 489.5,328.9 490.2,330.9" fill="none" stroke="#77AC30" stroke-width="1.5" stroke-linejoin="round" marker-start="url(#mg)" marker-mid="url(#mg)" marker-end="url(#mg)"/>
<polyline points="265.6,369.9 266.2,393.5 266.9,414.9 267.6,398.6 268.3,382.8 270.3,372.4 271.0,373.2 271.6,374.8 272.3,373.8 273.0,369.9 275.0,372.8 275.7,375.6 276.4,378.5 277.1,378.8 277.7,379.6 279.8,375.6 280.4,376.1 281.1,377.1 281.8,376.1 282.5,377.9 284.5,390.7 285.2,401.2 285.9,392.1 286.5,378.8 287.2,377.3 289.2,374.8 289.9,376.3 290.6,377.9 291.3,385.4 291.9,390.7 294.0,393.2 294.7,401.2 295.3,398.0 296.0,394.7 296.7,391.6 298.7,394.8 299.4,393.3 300.1,392.4 300.7,369.9 301.4,372.7 303.4,373.9 304.1,376.4 304.8,376.2 305.5,377.1 306.2,374.8 308.9,379.6 309.5,374.0 310.2,371.6 310.9,371.9 312.9,373.9 313.6,377.3 314.3,374.8 315.0,375.6 315.6,373.5 317.7,371.6 318.3,372.6 319.0,373.3 319.7,373.9 320.4,376.4 322.4,379.6 323.1,375.8 323.8,375.9 324.4,373.1 328.5,378.3 329.2,379.6 329.8,376.1 331.9,374.8 332.5,372.6 333.2,371.8 333.9,370.3 334.6,369.1 336.6,375.6 337.3,374.3 338.0,371.5 338.6,371.3 339.3,370.7 341.3,381.1 342.0,384.7 342.7,386.8 343.4,381.0 344.1,376.3 346.1,373.5 346.8,369.9 347.4,376.8 348.1,383.5 348.8,380.3 350.8,376.3 351.5,375.2 352.2,373.6 352.8,372.4 353.5,374.2 355.6,375.6 356.2,379.0 356.9,384.3 357.6,375.7 358.3,368.4 360.3,368.7 361.0,369.0 361.6,368.4 365.0,373.1 365.7,374.8 366.4,373.8 367.1,372.8 367.7,375.6 369.8,410.0 370.4,429.5 371.1,446.8 371.8,416.9 372.5,384.3 374.5,389.2 375.2,382.1 375.9,373.1 376.5,385.5 377.2,401.2 379.2,401.2 379.9,387.5 380.6,381.9 381.3,376.4 381.9,369.9 384.0,377.9 384.7,384.8 385.3,394.8 386.0,385.8 386.7,374.8 388.7,374.0 389.4,371.8 390.1,370.7 390.7,371.8 391.4,373.1 393.5,374.8 394.1,377.2 394.8,379.6 395.5,378.6 396.2,376.9 398.2,376.3 398.9,379.2 399.5,383.3 400.2,386.8 400.9,382.4 402.9,380.9 403.6,374.8 404.3,376.0 405.0,378.3 405.6,381.1 407.7,378.2 408.3,371.9 409.0,366.7 409.7,369.8 410.4,371.8 412.4,377.9 413.1,382.0 413.8,385.6 414.4,387.5 415.1,385.6 417.1,384.5 417.8,381.1 418.5,379.5 419.2,374.1 419.8,372.4 421.9,378.8 422.6,382.5 423.2,384.6 423.9,388.5 424.6,391.6 426.6,378.8 427.3,378.2 428.0,374.8 434.1,373.9 436.1,375.7 436.8,377.1 437.4,377.9 438.1,382.8 438.8,382.8 440.8,376.3 441.5,374.6 442.2,374.1 442.9,372.4 443.5,375.6 445.6,380.6 446.2,382.8 446.9,380.3 447.6,379.0 448.3,380.0 450.3,376.3 451.0,378.1 451.7,379.7 452.3,384.0 453.0,386.0 455.0,381.3 455.7,371.5 456.4,368.4 457.1,370.1 457.7,376.0 459.8,378.8 460.4,377.6 461.1,373.3 461.8,369.9 462.5,373.7 464.5,374.8 465.2,373.2 465.9,373.5 466.5,371.7 467.2,369.9 469.2,382.0 469.9,379.5 470.6,376.8 471.3,373.3 472.0,369.9 474.0,373.5 474.7,374.4 475.3,375.6 476.0,378.8 476.7,377.5 478.7,376.3 479.4,375.8 480.1,372.2 480.7,371.6 481.4,369.1 483.5,369.9 484.1,370.9 484.8,373.0 485.5,375.0 486.2,375.6 488.2,380.1 488.9,384.3 489.5,377.2 490.2,369.9" fill="none" stroke="#77AC30" stroke-width="1.5" stroke-linejoin="round" marker-start="url(#mg)" marker-mid="url(#mg)" marker-end="url(#mg)"/>
<polyline points="265.6,346.7 266.2,342.5 266.9,342.2 267.6,342.2 268.3,345.8 270.3,347.0 271.0,347.4 271.6,348.5 272.3,349.4 273.0,349.6 275.0,347.6 275.7,349.9 276.4,346.5 277.1,347.1 277.7,346.0 279.8,348.2 280.4,347.4 281.1,347.5 281.8,346.2 282.5,343.3 284.5,341.8 285.2,341.0 285.9,343.7 286.5,347.5 287.2,347.0 289.2,347.1 289.9,347.7 290.6,346.9 291.3,341.3 291.9,339.6 294.0,340.4 294.7,338.8 295.3,340.6 296.0,339.5 296.7,341.9 298.7,341.5 299.4,341.6 300.1,340.4 300.7,340.0 301.4,348.8 303.4,348.5 304.1,348.2 304.8,347.0 305.5,347.6 306.2,348.2 308.9,347.1 309.5,346.7 310.2,347.8 310.9,347.9 312.9,347.9 313.6,349.4 314.3,348.3 315.0,348.7 315.6,347.9 317.7,348.3 318.3,350.4 319.0,348.5 319.7,348.0 320.4,347.8 322.4,346.7 323.1,346.9 323.8,348.2 324.4,348.0 328.5,347.7 329.2,346.3 329.8,348.1 331.9,347.8 332.5,347.6 333.2,348.0 333.9,347.9 334.6,346.9 336.6,349.9 337.3,348.2 338.0,347.8 338.6,347.0 339.3,346.6 341.3,346.5 342.0,345.2 342.7,343.7 343.4,345.0 344.1,347.1 346.1,349.1 346.8,346.5 347.4,344.9 348.1,344.2 348.8,346.1 350.8,348.5 351.5,346.6 352.2,347.2 352.8,349.6 353.5,348.3 355.6,350.1 356.2,347.9 356.9,345.5 357.6,346.1 358.3,349.9 360.3,349.6 361.0,348.2 361.6,347.1 365.0,348.4 365.7,348.0 366.4,348.5 367.1,348.2 367.7,346.0 369.8,341.1 370.4,339.1 371.1,329.3 371.8,342.0 372.5,344.1 374.5,343.5 375.2,343.6 375.9,343.2 376.5,340.9 377.2,340.1 379.2,340.3 379.9,341.4 380.6,347.8 381.3,346.3 381.9,345.9 384.0,345.0 384.7,344.6 385.3,341.9 386.0,343.5 386.7,345.5 388.7,347.9 389.4,347.1 390.1,346.2 390.7,345.6 391.4,346.0 393.5,345.7 394.1,345.7 394.8,348.4 395.5,346.0 396.2,345.4 398.2,344.4 398.9,342.9 399.5,343.3 400.2,343.7 400.9,343.7 402.9,345.1 403.6,346.1 404.3,345.8 405.0,345.0 405.6,345.5 407.7,348.4 408.3,349.7 409.0,349.6 409.7,348.4 410.4,348.0 412.4,345.9 413.1,346.5 413.8,344.3 414.4,343.1 415.1,343.4 417.1,344.7 417.8,348.0 418.5,348.9 419.2,348.5 419.8,347.7 421.9,347.3 422.6,344.6 423.2,343.6 423.9,342.4 424.6,342.7 426.6,342.9 427.3,345.5 428.0,345.9 434.1,348.3 436.1,347.7 436.8,346.1 437.4,346.1 438.1,344.3 438.8,345.7 440.8,347.7 441.5,347.9 442.2,348.9 442.9,348.0 443.5,348.2 445.6,346.6 446.2,344.3 446.9,343.9 447.6,344.5 448.3,346.1 450.3,346.4 451.0,344.9 451.7,345.3 452.3,345.0 453.0,344.0 455.0,345.3 455.7,348.4 456.4,350.4 457.1,349.5 457.7,347.0 459.8,347.4 460.4,346.3 461.1,346.7 461.8,347.5 462.5,349.4 464.5,348.5 465.2,348.7 465.9,348.4 466.5,348.1 467.2,345.4 469.2,345.7 469.9,346.6 470.6,347.5 471.3,349.1 472.0,349.1 474.0,350.1 474.7,349.2 475.3,347.7 476.0,344.4 476.7,345.3 478.7,347.1 479.4,346.7 480.1,346.4 480.7,348.8 481.4,349.3 483.5,348.6 484.1,349.0 484.8,348.1 485.5,348.6 486.2,345.8 488.2,344.4 488.9,344.1 489.5,344.3 490.2,346.9" fill="none" stroke="#A2142F" stroke-width="1.4" stroke-linejoin="round" marker-start="url(#mr)" marker-mid="url(#mr)" marker-end="url(#mr)"/>
<polyline points="265.6,359.2 266.2,365.9 266.9,364.9 267.6,365.9 268.3,363.1 270.3,361.2 271.0,359.5 271.6,360.6 272.3,360.0 273.0,359.5 275.0,359.9 275.7,362.2 276.4,360.3 277.1,361.2 277.7,360.6 279.8,359.1 280.4,360.6 281.1,362.2 281.8,361.4 282.5,362.5 284.5,365.3 285.2,366.8 285.9,366.8 286.5,361.6 287.2,362.1 289.2,360.1 289.9,360.7 290.6,361.6 291.3,367.3 291.9,368.5 294.0,369.3 294.7,369.6 295.3,367.4 296.0,367.3 296.7,366.5 298.7,366.0 299.4,367.4 300.1,368.5 300.7,367.1 301.4,359.5 303.4,360.0 304.1,360.8 304.8,360.6 305.5,361.1 306.2,360.5 308.9,362.1 309.5,360.4 310.2,357.6 310.9,359.4 312.9,360.2 313.6,360.3 314.3,359.8 315.0,361.2 315.6,360.0 317.7,358.6 318.3,359.3 319.0,359.7 319.7,358.8 320.4,361.2 322.4,361.3 323.1,361.0 323.8,359.3 324.4,361.5 328.5,361.6 329.2,361.9 329.8,360.2 331.9,359.7 332.5,358.5 333.2,360.5 333.9,358.3 334.6,359.0 336.6,360.6 337.3,359.6 338.0,360.0 338.6,360.7 339.3,359.7 341.3,363.0 342.0,363.6 342.7,363.2 343.4,361.9 344.1,359.5 346.1,359.9 346.8,360.3 347.4,361.4 348.1,363.1 348.8,362.8 350.8,360.4 351.5,360.8 352.2,361.3 352.8,359.1 353.5,360.1 355.6,360.2 356.2,361.5 356.9,362.0 357.6,360.5 358.3,357.8 360.3,358.4 361.0,358.4 361.6,358.4 365.0,360.7 365.7,360.2 366.4,360.1 367.1,359.6 367.7,362.7 369.8,365.2 370.4,368.6 371.1,379.4 371.8,367.7 372.5,364.3 374.5,364.2 375.2,364.7 375.9,364.1 376.5,368.6 377.2,367.0 379.2,367.9 379.9,367.3 380.6,361.6 381.3,358.7 381.9,360.1 384.0,361.5 384.7,364.0 385.3,364.9 386.0,364.3 386.7,361.0 388.7,359.9 389.4,360.1 390.1,359.8 390.7,359.7 391.4,361.3 393.5,361.3 394.1,361.2 394.8,361.4 395.5,361.5 396.2,362.2 398.2,361.1 398.9,361.0 399.5,362.3 400.2,363.6 400.9,363.3 402.9,361.4 403.6,360.9 404.3,361.5 405.0,361.9 405.6,360.8 407.7,360.9 408.3,358.5 409.0,359.1 409.7,358.0 410.4,359.9 412.4,361.2 413.1,360.5 413.8,362.8 414.4,364.3 415.1,363.6 417.1,362.8 417.8,361.3 418.5,361.8 419.2,361.5 419.8,360.0 421.9,361.3 422.6,362.4 423.2,362.2 423.9,364.1 424.6,364.0 426.6,362.7 427.3,360.4 428.0,358.7 434.1,359.5 436.1,360.3 436.8,360.8 437.4,360.0 438.1,363.1 438.8,362.4 440.8,360.5 441.5,359.6 442.2,360.3 442.9,359.4 443.5,360.7 445.6,361.8 446.2,362.5 446.9,362.8 447.6,361.6 448.3,360.9 450.3,361.6 451.0,361.4 451.7,361.3 452.3,363.7 453.0,363.2 455.0,362.8 455.7,358.6 456.4,356.9 457.1,357.4 457.7,360.6 459.8,360.7 460.4,360.8 461.1,359.7 461.8,357.8 462.5,360.7 464.5,359.3 465.2,359.8 465.9,358.6 466.5,359.1 467.2,359.8 469.2,361.6 469.9,361.1 470.6,360.8 471.3,359.4 472.0,359.4 474.0,361.3 474.7,359.4 475.3,360.0 476.0,361.1 476.7,361.0 478.7,359.9 479.4,360.7 480.1,360.1 480.7,359.3 481.4,357.8 483.5,359.8 484.1,358.2 484.8,360.1 485.5,361.0 486.2,359.6 488.2,361.9 488.9,363.6 489.5,361.2 490.2,358.3" fill="none" stroke="#A2142F" stroke-width="1.4" stroke-linejoin="round" marker-start="url(#mr)" marker-mid="url(#mr)" marker-end="url(#mr)"/>
<line x1="265.6" y1="354.5" x2="490.2" y2="354.5" stroke="#000" stroke-width="1.2" stroke-dasharray="4.8 1.9 0.8 2.4"/>
</g>
<rect x="264.2" y="263.5" width="226.7" height="227.0" fill="none" stroke="#4a4a4a" stroke-width="1"/>
<path d="M284.0,490.5v-3.3M284.0,263.5v3.3M305.0,490.5v-3.3M305.0,263.5v3.3M325.3,490.5v-3.3M325.3,263.5v3.3M346.3,490.5v-3.3M346.3,263.5v3.3M366.6,490.5v-3.3M366.6,263.5v3.3M387.6,490.5v-3.3M387.6,263.5v3.3M408.5,490.5v-3.3M408.5,263.5v3.3M428.8,490.5v-3.3M428.8,263.5v3.3M449.8,490.5v-3.3M449.8,263.5v3.3M470.1,490.5v-3.3M470.1,263.5v3.3M264.2,475.4h3.0M490.9,475.4h-3.0M264.2,445.1h3.0M490.9,445.1h-3.0M264.2,414.8h3.0M490.9,414.8h-3.0M264.2,384.6h3.0M490.9,384.6h-3.0M264.2,354.3h3.0M490.9,354.3h-3.0M264.2,324.0h3.0M490.9,324.0h-3.0M264.2,293.8h3.0M490.9,293.8h-3.0M264.2,263.5h3.0M490.9,263.5h-3.0" stroke="#666" stroke-width="1" fill="none"/>
<text class="t" style="font-size:9.6px" text-anchor="end" transform="translate(261.7,479.9) scale(0.69,1)">-0.8</text>
<text class="t" style="font-size:9.6px" text-anchor="end" transform="translate(261.7,449.6) scale(0.69,1)">-0.6</text>
<text class="t" style="font-size:9.6px" text-anchor="end" transform="translate(261.7,419.3) scale(0.69,1)">-0.4</text>
<text class="t" style="font-size:9.6px" text-anchor="end" transform="translate(261.7,389.1) scale(0.69,1)">-0.2</text>
<text class="t" style="font-size:9.6px" text-anchor="end" transform="translate(261.7,358.8) scale(0.69,1)">0</text>
<text class="t" style="font-size:9.6px" text-anchor="end" transform="translate(261.7,328.5) scale(0.69,1)">0.2</text>
<text class="t" style="font-size:9.6px" text-anchor="end" transform="translate(261.7,298.3) scale(0.69,1)">0.4</text>
<text class="t" style="font-size:9.6px" text-anchor="end" transform="translate(261.7,268.0) scale(0.69,1)">0.6</text>
<text class="t" text-anchor="middle" transform="translate(264.2,505.1) scale(0.69,1)">Feb</text>
<text class="t" text-anchor="middle" transform="translate(283.8,505.1) scale(0.69,1)">Mar</text>
<text class="t" text-anchor="middle" transform="translate(304.8,505.1) scale(0.69,1)">Apr</text>
<text class="t" text-anchor="middle" transform="translate(325.1,505.1) scale(0.69,1)">May</text>
<text class="t" text-anchor="middle" transform="translate(346.1,505.1) scale(0.69,1)">Jun</text>
<text class="t" text-anchor="middle" transform="translate(366.4,505.1) scale(0.69,1)">Jul</text>
<text class="t" text-anchor="middle" transform="translate(387.4,505.1) scale(0.69,1)">Aug</text>
<text class="t" text-anchor="middle" transform="translate(408.3,505.1) scale(0.69,1)">Sep</text>
<text class="t" text-anchor="middle" transform="translate(428.6,505.1) scale(0.69,1)">Oct</text>
<text class="t" text-anchor="middle" transform="translate(449.6,505.1) scale(0.69,1)">Nov</text>
<text class="t" text-anchor="middle" transform="translate(469.9,505.1) scale(0.69,1)">Dec</text>
<text class="t" text-anchor="middle" transform="translate(490.9,505.1) scale(0.69,1)">Jan</text>
<text class="t" text-anchor="middle" transform="translate(478.3,517.1) scale(0.69,1)">2020</text>
<text class="s ti" font-size="14.6" x="406.7" y="285.3" textLength="28.2" lengthAdjust="spacingAndGlyphs">SP500</text>
<rect x="435.8" y="281.3" width="6.4" height="0.9" fill="#111"/>
<path d="M447.1,277.3L452.9,281.6L447.1,285.9" fill="none" stroke="#111" stroke-width="0.9"/>
<text class="s ti" font-size="14.6" x="453.9" y="285.3" textLength="18.3" lengthAdjust="spacingAndGlyphs">SSE</text>
<rect x="397.0" y="423.4" width="88.9" height="59.4" fill="#fff" stroke="#4a4a4a" stroke-width="0.9"/>
<path d="M407.2,430.4l1.4,-2.3l1.4,2.3l-1.4,2.3z" fill="#0072BD"/>
<text class="s" style="stroke:#000;stroke-width:0.15" font-size="9" x="419.6" y="432.8" textLength="55.5" lengthAdjust="spacingAndGlyphs">VaR(<tspan font-style="italic">α</tspan> = 0.01, 0.99)</text>
<ellipse cx="408.6" cy="441.9" rx="1.1" ry="1.2" fill="#EDB120"/>
<text class="s" style="stroke:#000;stroke-width:0.15" font-size="9" x="419.6" y="444.3" textLength="55.5" lengthAdjust="spacingAndGlyphs">VaR(<tspan font-style="italic">α</tspan> = 0.05, 0.95)</text>
<line x1="398.5" y1="453.4" x2="418.4" y2="453.4" stroke="#77AC30" stroke-width="1.3"/>
<path d="M407.0,453.4l1.6,-2.4l1.6,2.4l-1.6,2.4z" fill="#77AC30"/>
<text class="s" style="stroke:#000;stroke-width:0.15" font-size="9" x="419.6" y="455.8" textLength="63.4" lengthAdjust="spacingAndGlyphs">CoVaR(<tspan font-style="italic">α</tspan> = 0.01, 0.99)</text>
<line x1="398.5" y1="464.9" x2="418.4" y2="464.9" stroke="#A2142F" stroke-width="1.3"/>
<path d="M407.3,464.9l1.3,-1.8l1.3,1.8l-1.3,1.8z" fill="#A2142F"/>
<text class="s" style="stroke:#000;stroke-width:0.15" font-size="9" x="419.6" y="467.3" textLength="63.4" lengthAdjust="spacingAndGlyphs">CoVaR(<tspan font-style="italic">α</tspan> = 0.05, 0.95)</text>
<line x1="398.5" y1="476.4" x2="418.4" y2="476.4" stroke="#262626" stroke-width="1.1" stroke-dasharray="5.7 2 0.8 2.2"/>
<text class="s" style="stroke:#000;stroke-width:0.15" font-size="9" x="419.6" y="478.8" textLength="48.0" lengthAdjust="spacingAndGlyphs">CoVaR(<tspan font-style="italic">α</tspan> = 0.50)</text>
</svg></body></html>
